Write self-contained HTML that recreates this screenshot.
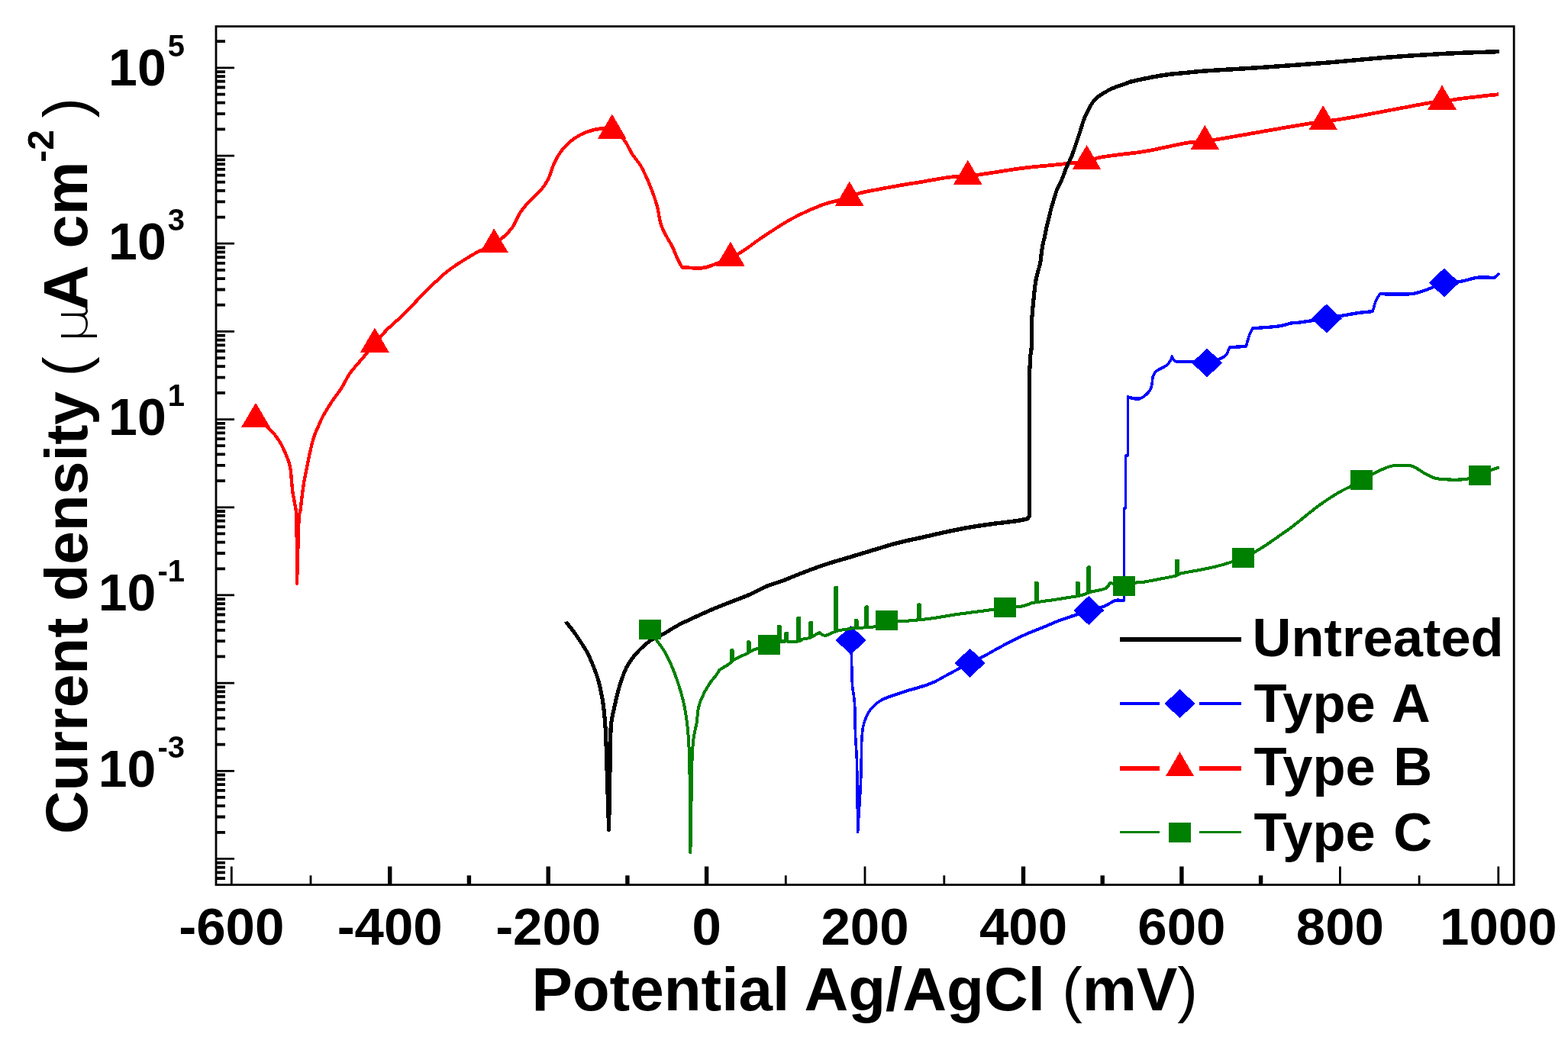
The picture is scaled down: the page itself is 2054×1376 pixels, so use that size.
<!DOCTYPE html>
<html><head><meta charset="utf-8"><title>Polarization curves</title>
<style>html,body{margin:0;padding:0;background:#fff;}svg{display:block;}</style></head>
<body>
<svg width="2054" height="1376" viewBox="0 0 2054 1376">
<rect width="2054" height="1376" fill="#fff"/>
<path d="M303.3,1159.5V1135.5M407.0,1159.5V1147.2M1029.3,1159.5V1147.2M1133.0,1159.5V1135.5M1236.8,1159.5V1147.2M1755.4,1159.5V1135.5M1859.1,1159.5V1147.2M1962.8,1159.5V1135.5M283.0,1125.4H307.0M283.0,1010.3H307.0M283.0,895.1H307.0M283.0,779.9H307.0M283.0,664.8H307.0M283.0,549.6H307.0M283.0,434.4H307.0M283.0,319.2H307.0M283.0,204.1H307.0M283.0,88.9H307.0" stroke="#000" stroke-width="2.8" fill="none"/>
<path d="M283.0,1151.0H295.0M283.0,1143.3H295.0M283.0,1136.6H295.0M283.0,1130.7H295.0M283.0,1090.8H295.0M283.0,1070.5H295.0M283.0,1056.1H295.0M283.0,1044.9H295.0M283.0,1035.8H295.0M283.0,1028.1H295.0M283.0,1021.4H295.0M283.0,1015.5H295.0M283.0,975.6H295.0M283.0,955.3H295.0M283.0,940.9H295.0M283.0,929.8H295.0M283.0,920.6H295.0M283.0,912.9H295.0M283.0,906.3H295.0M283.0,900.4H295.0M283.0,860.4H295.0M283.0,840.1H295.0M283.0,825.8H295.0M283.0,814.6H295.0M283.0,805.5H295.0M283.0,797.8H295.0M283.0,791.1H295.0M283.0,785.2H295.0M283.0,745.3H295.0M283.0,725.0H295.0M283.0,710.6H295.0M283.0,699.4H295.0M283.0,690.3H295.0M283.0,682.6H295.0M283.0,675.9H295.0M283.0,670.0H295.0M283.0,630.1H295.0M283.0,609.8H295.0M283.0,595.4H295.0M283.0,584.2H295.0M283.0,575.1H295.0M283.0,567.4H295.0M283.0,560.7H295.0M283.0,554.8H295.0M283.0,514.9H295.0M283.0,494.6H295.0M283.0,480.2H295.0M283.0,469.1H295.0M283.0,460.0H295.0M283.0,452.3H295.0M283.0,445.6H295.0M283.0,439.7H295.0M283.0,399.7H295.0M283.0,379.5H295.0M283.0,365.1H295.0M283.0,353.9H295.0M283.0,344.8H295.0M283.0,337.1H295.0M283.0,330.4H295.0M283.0,324.5H295.0M283.0,284.6H295.0M283.0,264.3H295.0M283.0,249.9H295.0M283.0,238.7H295.0M283.0,229.6H295.0M283.0,221.9H295.0M283.0,215.2H295.0M283.0,209.3H295.0M283.0,169.4H295.0M283.0,149.1H295.0M283.0,134.7H295.0M283.0,123.6H295.0M283.0,114.5H295.0M283.0,106.7H295.0M283.0,100.1H295.0M283.0,94.2H295.0M283.0,54.2H295.0" stroke="#000" stroke-width="3.8" fill="none"/>
<path d="M510.7,1159.5V1135.5M614.4,1159.5V1147.2M718.2,1159.5V1135.5M821.9,1159.5V1147.2M925.6,1159.5V1135.5M1340.5,1159.5V1135.5M1444.2,1159.5V1147.2M1547.9,1159.5V1135.5M1651.6,1159.5V1147.2" stroke="#000" stroke-width="5.4" fill="none"/>
<polyline points="1114.6,839.0 1114.8,843.1 1114.9,847.0 1115.1,850.9 1115.2,855.4 1115.4,860.7 1115.5,866.1 1115.7,872.2 1115.8,878.8 1116.0,885.5 1116.2,891.7 1116.5,897.3 1116.9,901.9 1117.4,905.7 1118.0,909.2 1118.6,912.8 1119.1,916.8 1119.5,921.7 1119.8,927.6 1119.9,934.1 1120.1,941.1 1120.2,948.3 1120.3,955.5 1120.5,962.5 1120.8,968.7 1121.2,974.3 1121.5,979.9 1121.9,986.2 1122.3,993.7 1122.6,1003.2 1122.8,1015.1 1123.0,1028.9 1123.2,1044.0 1123.3,1059.8 1123.4,1075.6 1123.6,1090.7 1124.3,1079.3 1125.0,1067.7 1125.8,1056.1 1126.5,1044.7 1127.1,1033.8 1127.6,1023.5 1127.9,1013.7 1128.1,1004.2 1128.3,995.1 1128.4,986.7 1128.5,979.1 1128.7,972.6 1129.0,966.4 1129.4,961.8 1129.8,958.2 1130.2,955.2 1130.7,952.3 1132.1,946.6 1133.8,942.1 1135.7,937.1 1138.8,931.9 1141.4,928.8 1144.5,925.5 1147.9,922.3 1151.0,919.7 1154.5,917.4 1157.9,915.8 1161.8,914.2 1165.3,912.9 1169.1,911.6 1173.1,910.3 1177.0,909.0 1180.9,907.7 1184.7,906.5 1188.6,905.2 1192.5,904.0 1196.4,902.9 1200.3,901.8 1204.2,900.7 1208.0,899.5 1211.8,898.3 1215.6,897.0 1219.3,895.6 1223.1,894.0 1226.8,892.2 1230.5,890.2 1234.2,888.1 1238.0,886.0 1241.9,883.9 1245.8,881.8 1249.8,879.7 1253.8,877.5 1257.9,875.4 1261.9,873.2 1266.2,871.1 1270.6,868.8 1274.5,866.9 1278.6,864.9 1282.9,862.9 1286.9,860.9 1290.6,859.0 1294.4,856.9 1297.7,855.0 1301.0,853.1 1304.9,850.9 1308.6,848.9 1312.7,846.7 1316.9,844.4 1321.2,842.1 1325.4,840.0 1329.5,838.0 1333.6,836.0 1337.6,834.1 1341.7,832.2 1345.8,830.4 1349.9,828.7 1354.0,827.0 1358.1,825.4 1362.2,823.8 1366.3,822.2 1370.4,820.5 1374.5,818.7 1378.5,816.9 1382.6,815.1 1386.7,813.5 1390.8,812.0 1395.0,810.6 1399.1,809.2 1403.2,807.8 1407.2,806.5 1412.0,804.8 1416.6,803.2 1421.3,801.5 1426.1,800.0 1430.2,798.9 1434.6,797.8 1439.0,796.8 1443.1,795.7 1446.8,794.5 1451.8,791.9 1455.9,789.2 1460.0,787.2 1464.2,786.6 1468.4,786.8 1472.5,787.0 1472.5,766.8 1472.5,746.7 1472.5,726.5 1472.5,706.3 1472.5,686.2 1472.5,666.0 1474.5,666.0 1474.5,654.5 1474.5,643.0 1474.5,631.5 1474.5,620.0 1474.5,608.5 1474.5,597.0 1477.4,597.0 1477.4,584.2 1477.4,571.3 1477.4,558.5 1477.4,545.7 1477.4,532.8 1477.4,520.0 1478.5,520.6 1482.5,521.6 1488.1,522.7 1493.5,522.3 1497.2,520.4 1500.9,517.6 1504.3,514.2 1506.9,510.6 1508.4,506.5 1509.2,501.9 1509.6,497.4 1510.2,493.8 1513.6,487.2 1517.1,484.9 1521.8,482.4 1526.6,479.7 1530.3,477.1 1533.5,472.1 1535.3,467.1 1537.1,470.9 1540.3,473.8 1543.5,474.2 1547.5,474.1 1552.1,473.8 1557.1,473.8 1560.7,474.1 1564.6,474.6 1568.7,475.2 1572.9,475.6 1577.1,475.8 1581.1,475.5 1585.2,474.7 1589.4,473.6 1593.6,472.1 1597.5,470.5 1601.0,468.8 1603.9,467.1 1607.3,463.4 1609.0,459.4 1610.6,455.4 1614.9,455.1 1619.3,454.7 1623.6,454.4 1628.0,454.0 1632.3,453.7 1633.6,449.3 1634.9,444.7 1636.2,440.5 1637.3,437.0 1640.7,430.3 1646.5,429.9 1652.5,429.4 1658.4,429.0 1664.2,428.6 1669.5,428.1 1674.1,427.6 1679.6,426.6 1684.0,425.5 1687.5,424.4 1690.8,423.6 1695.3,423.1 1700.0,422.8 1703.8,422.3 1708.1,421.7 1712.8,421.0 1717.6,420.3 1721.2,419.8 1724.6,419.4 1728.3,418.9 1732.5,418.2 1737.7,417.4 1743.1,416.5 1749.5,415.3 1756.3,414.0 1763.2,412.8 1769.7,411.6 1775.3,410.7 1780.8,409.9 1785.5,409.3 1789.7,408.9 1793.9,408.5 1798.2,408.0 1799.5,403.4 1800.8,398.8 1802.2,394.6 1804.8,389.7 1807.6,385.2 1814.5,385.3 1821.7,385.5 1828.8,385.6 1835.7,385.7 1842.2,385.6 1848.0,385.2 1853.0,384.5 1857.4,383.5 1861.4,382.3 1865.1,381.0 1868.6,379.7 1872.2,378.4 1876.4,376.8 1880.3,375.0 1884.1,373.2 1887.9,371.6 1891.8,370.4 1895.8,369.8 1899.8,369.6 1903.9,369.5 1908.1,369.4 1912.5,369.0 1916.4,368.3 1920.4,367.3 1924.5,366.2 1928.7,365.1 1932.8,364.2 1936.7,363.6 1941.4,363.3 1946.3,363.5 1951.0,363.7 1955.1,363.9 1958.3,363.6 1963.6,358.2" fill="none" stroke="#0000ff" stroke-width="3.6" stroke-linejoin="round" stroke-linecap="butt" shape-rendering="crispEdges"/><path d="M1116.2,839.0L1116.4,843.1L1113.2,843.1L1113.0,839.0ZM1116.4,843.1L1116.5,847.0L1113.3,847.0L1113.2,843.1ZM1116.5,847.0L1116.7,850.9L1113.5,850.9L1113.3,847.0ZM1116.7,850.9L1116.8,855.4L1113.6,855.4L1113.5,850.9ZM1116.8,855.4L1117.0,860.7L1113.8,860.7L1113.6,855.4ZM1117.0,860.7L1117.1,866.1L1113.9,866.1L1113.8,860.7ZM1117.1,866.1L1117.3,872.2L1114.1,872.2L1113.9,866.1ZM1117.3,872.2L1117.4,878.8L1114.2,878.8L1114.1,872.2ZM1117.4,878.8L1117.6,885.5L1114.4,885.5L1114.2,878.8ZM1117.6,885.5L1117.8,891.7L1114.6,891.7L1114.4,885.5ZM1117.8,891.7L1118.1,897.3L1114.9,897.3L1114.6,891.7ZM1118.1,897.3L1118.5,901.9L1115.3,901.9L1114.9,897.3ZM1118.5,901.9L1119.0,905.7L1115.8,905.7L1115.3,901.9ZM1119.0,905.7L1119.6,909.2L1116.4,909.2L1115.8,905.7ZM1119.6,909.2L1120.2,912.8L1117.0,912.8L1116.4,909.2ZM1120.2,912.8L1120.7,916.8L1117.5,916.8L1117.0,912.8ZM1120.7,916.8L1121.1,921.7L1117.9,921.7L1117.5,916.8ZM1121.1,921.7L1121.4,927.6L1118.2,927.6L1117.9,921.7ZM1121.4,927.6L1121.5,934.1L1118.3,934.1L1118.2,927.6ZM1121.5,934.1L1121.7,941.1L1118.5,941.1L1118.3,934.1ZM1121.7,941.1L1121.8,948.3L1118.6,948.3L1118.5,941.1ZM1121.8,948.3L1121.9,955.5L1118.7,955.5L1118.6,948.3ZM1121.9,955.5L1122.1,962.5L1118.9,962.5L1118.7,955.5ZM1122.1,962.5L1122.4,968.7L1119.2,968.7L1118.9,962.5ZM1122.4,968.7L1122.8,974.3L1119.6,974.3L1119.2,968.7ZM1122.8,974.3L1123.1,979.9L1120.0,979.9L1119.6,974.3ZM1123.1,979.9L1123.5,986.2L1120.3,986.2L1120.0,979.9ZM1123.5,986.2L1123.9,993.7L1120.7,993.7L1120.3,986.2ZM1123.9,993.7L1124.2,1003.2L1121.0,1003.2L1120.7,993.7ZM1124.2,1003.2L1124.4,1015.1L1121.2,1015.1L1121.0,1003.2ZM1124.4,1015.1L1124.6,1028.9L1121.4,1028.9L1121.2,1015.1ZM1124.6,1028.9L1124.8,1044.0L1121.6,1044.0L1121.4,1028.9ZM1124.8,1044.0L1124.9,1059.8L1121.7,1059.8L1121.6,1044.0ZM1124.9,1059.8L1125.0,1075.6L1121.8,1075.6L1121.7,1059.8ZM1125.0,1075.6L1125.2,1090.7L1122.0,1090.7L1121.8,1075.6ZM1122.0,1090.7L1122.7,1079.3L1125.9,1079.3L1125.2,1090.7ZM1122.7,1079.3L1123.4,1067.7L1126.6,1067.7L1125.9,1079.3ZM1123.4,1067.7L1124.2,1056.1L1127.4,1056.1L1126.6,1067.7ZM1124.2,1056.1L1124.9,1044.7L1128.1,1044.7L1127.4,1056.1ZM1124.9,1044.7L1125.5,1033.8L1128.7,1033.8L1128.1,1044.7ZM1125.5,1033.8L1126.0,1023.5L1129.2,1023.5L1128.7,1033.8ZM1126.0,1023.5L1126.3,1013.7L1129.5,1013.7L1129.2,1023.5ZM1126.3,1013.7L1126.5,1004.2L1129.7,1004.2L1129.5,1013.7ZM1126.5,1004.2L1126.7,995.1L1129.9,995.1L1129.7,1004.2ZM1126.7,995.1L1126.8,986.7L1130.0,986.7L1129.9,995.1ZM1126.8,986.7L1126.9,979.1L1130.1,979.1L1130.0,986.7ZM1126.9,979.1L1127.1,972.6L1130.3,972.6L1130.1,979.1ZM1127.1,972.6L1127.4,966.4L1130.6,966.4L1130.3,972.6ZM1127.4,966.4L1127.8,961.8L1131.0,961.8L1130.6,966.4ZM1127.8,961.8L1128.2,958.2L1131.4,958.2L1131.0,961.8ZM1128.2,958.2L1128.6,955.2L1131.8,955.2L1131.4,958.2ZM1128.6,955.2L1129.1,952.3L1132.3,952.3L1131.8,955.2ZM1129.1,952.3L1130.5,946.6L1133.7,946.6L1132.3,952.3ZM1130.5,946.6L1132.2,942.1L1135.4,942.1L1133.7,946.6ZM1132.2,942.1L1134.1,937.1L1137.3,937.1L1135.4,942.1ZM1134.1,937.1L1137.2,931.9L1140.4,931.9L1137.3,937.1ZM1137.2,931.9L1139.8,928.8L1143.0,928.8L1140.4,931.9ZM1139.8,928.8L1142.9,925.5L1146.1,925.5L1143.0,928.8ZM1144.5,923.3L1147.9,920.1L1147.9,924.5L1144.5,927.7ZM1147.9,920.1L1151.0,917.5L1151.0,921.9L1147.9,924.5ZM1151.0,917.5L1154.5,915.2L1154.5,919.6L1151.0,921.9ZM1154.5,915.2L1157.9,913.6L1157.9,918.0L1154.5,919.6ZM1157.9,913.6L1161.8,912.0L1161.8,916.4L1157.9,918.0ZM1161.8,912.0L1165.3,910.7L1165.3,915.1L1161.8,916.4ZM1165.3,910.7L1169.1,909.4L1169.1,913.8L1165.3,915.1ZM1169.1,909.4L1173.1,908.1L1173.1,912.5L1169.1,913.8ZM1173.1,908.1L1177.0,906.8L1177.0,911.2L1173.1,912.5ZM1177.0,906.8L1180.9,905.5L1180.9,909.9L1177.0,911.2ZM1180.9,905.5L1184.7,904.3L1184.7,908.7L1180.9,909.9ZM1184.7,904.3L1188.6,903.0L1188.6,907.4L1184.7,908.7ZM1188.6,903.0L1192.5,901.8L1192.5,906.2L1188.6,907.4ZM1192.5,901.8L1196.4,900.7L1196.4,905.1L1192.5,906.2ZM1196.4,900.7L1200.3,899.6L1200.3,904.0L1196.4,905.1ZM1200.3,899.6L1204.2,898.5L1204.2,902.9L1200.3,904.0ZM1204.2,898.5L1208.0,897.3L1208.0,901.7L1204.2,902.9ZM1208.0,897.3L1211.8,896.1L1211.8,900.5L1208.0,901.7ZM1211.8,896.1L1215.6,894.8L1215.6,899.2L1211.8,900.5ZM1215.6,894.8L1219.3,893.4L1219.3,897.8L1215.6,899.2ZM1219.3,893.4L1223.1,891.8L1223.1,896.2L1219.3,897.8ZM1223.1,891.8L1226.8,890.0L1226.8,894.4L1223.1,896.2ZM1226.8,890.0L1230.5,888.0L1230.5,892.4L1226.8,894.4ZM1230.5,888.0L1234.2,885.9L1234.2,890.3L1230.5,892.4ZM1234.2,885.9L1238.0,883.8L1238.0,888.2L1234.2,890.3ZM1238.0,883.8L1241.9,881.7L1241.9,886.1L1238.0,888.2ZM1241.9,881.7L1245.8,879.6L1245.8,884.0L1241.9,886.1ZM1245.8,879.6L1249.8,877.5L1249.8,881.9L1245.8,884.0ZM1249.8,877.5L1253.8,875.3L1253.8,879.7L1249.8,881.9ZM1253.8,875.3L1257.9,873.2L1257.9,877.6L1253.8,879.7ZM1257.9,873.2L1261.9,871.0L1261.9,875.4L1257.9,877.6ZM1261.9,871.0L1266.2,868.9L1266.2,873.3L1261.9,875.4ZM1266.2,868.9L1270.6,866.6L1270.6,871.0L1266.2,873.3ZM1270.6,866.6L1274.5,864.7L1274.5,869.1L1270.6,871.0ZM1274.5,864.7L1278.6,862.7L1278.6,867.1L1274.5,869.1ZM1278.6,862.7L1282.9,860.7L1282.9,865.1L1278.6,867.1ZM1282.9,860.7L1286.9,858.7L1286.9,863.1L1282.9,865.1ZM1286.9,858.7L1290.6,856.8L1290.6,861.2L1286.9,863.1ZM1290.6,856.8L1294.4,854.7L1294.4,859.1L1290.6,861.2ZM1294.4,854.7L1297.7,852.8L1297.7,857.2L1294.4,859.1ZM1297.7,852.8L1301.0,850.9L1301.0,855.3L1297.7,857.2ZM1301.0,850.9L1304.9,848.7L1304.9,853.1L1301.0,855.3ZM1304.9,848.7L1308.6,846.7L1308.6,851.1L1304.9,853.1ZM1308.6,846.7L1312.7,844.5L1312.7,848.9L1308.6,851.1ZM1312.7,844.5L1316.9,842.2L1316.9,846.6L1312.7,848.9ZM1316.9,842.2L1321.2,839.9L1321.2,844.3L1316.9,846.6ZM1321.2,839.9L1325.4,837.8L1325.4,842.2L1321.2,844.3ZM1325.4,837.8L1329.5,835.8L1329.5,840.2L1325.4,842.2ZM1329.5,835.8L1333.6,833.8L1333.6,838.2L1329.5,840.2ZM1333.6,833.8L1337.6,831.9L1337.6,836.3L1333.6,838.2ZM1337.6,831.9L1341.7,830.0L1341.7,834.4L1337.6,836.3ZM1341.7,830.0L1345.8,828.2L1345.8,832.6L1341.7,834.4ZM1345.8,828.2L1349.9,826.5L1349.9,830.9L1345.8,832.6ZM1349.9,826.5L1354.0,824.8L1354.0,829.2L1349.9,830.9ZM1354.0,824.8L1358.1,823.2L1358.1,827.6L1354.0,829.2ZM1358.1,823.2L1362.2,821.6L1362.2,826.0L1358.1,827.6ZM1362.2,821.6L1366.3,820.0L1366.3,824.4L1362.2,826.0ZM1366.3,820.0L1370.4,818.3L1370.4,822.7L1366.3,824.4ZM1370.4,818.3L1374.5,816.5L1374.5,820.9L1370.4,822.7ZM1374.5,816.5L1378.5,814.7L1378.5,819.1L1374.5,820.9ZM1378.5,814.7L1382.6,812.9L1382.6,817.3L1378.5,819.1ZM1382.6,812.9L1386.7,811.3L1386.7,815.7L1382.6,817.3ZM1386.7,811.3L1390.8,809.8L1390.8,814.2L1386.7,815.7ZM1390.8,809.8L1395.0,808.4L1395.0,812.8L1390.8,814.2ZM1395.0,808.4L1399.1,807.0L1399.1,811.4L1395.0,812.8ZM1399.1,807.0L1403.2,805.6L1403.2,810.0L1399.1,811.4ZM1403.2,805.6L1407.2,804.3L1407.2,808.7L1403.2,810.0ZM1407.2,804.3L1412.0,802.6L1412.0,807.0L1407.2,808.7ZM1412.0,802.6L1416.6,801.0L1416.6,805.4L1412.0,807.0ZM1416.6,801.0L1421.3,799.3L1421.3,803.7L1416.6,805.4ZM1421.3,799.3L1426.1,797.8L1426.1,802.2L1421.3,803.7ZM1426.1,797.8L1430.2,796.7L1430.2,801.1L1426.1,802.2ZM1430.2,796.7L1434.6,795.6L1434.6,800.0L1430.2,801.1ZM1434.6,795.6L1439.0,794.6L1439.0,799.0L1434.6,800.0ZM1439.0,794.6L1443.1,793.5L1443.1,797.9L1439.0,799.0ZM1443.1,793.5L1446.8,792.3L1446.8,796.7L1443.1,797.9ZM1446.8,792.3L1451.8,789.7L1451.8,794.1L1446.8,796.7ZM1451.8,789.7L1455.9,787.0L1455.9,791.4L1451.8,794.1ZM1455.9,787.0L1460.0,785.0L1460.0,789.4L1455.9,791.4ZM1460.0,785.0L1464.2,784.4L1464.2,788.8L1460.0,789.4ZM1464.2,784.4L1468.4,784.6L1468.4,789.0L1464.2,788.8ZM1468.4,784.6L1472.5,784.8L1472.5,789.2L1468.4,789.0ZM1470.9,787.0L1470.9,766.8L1474.1,766.8L1474.1,787.0ZM1470.9,766.8L1470.9,746.7L1474.1,746.7L1474.1,766.8ZM1470.9,746.7L1470.9,726.5L1474.1,726.5L1474.1,746.7ZM1470.9,726.5L1470.9,706.3L1474.1,706.3L1474.1,726.5ZM1470.9,706.3L1470.9,686.2L1474.1,686.2L1474.1,706.3ZM1470.9,686.2L1470.9,666.0L1474.1,666.0L1474.1,686.2ZM1472.5,663.8L1474.5,663.8L1474.5,668.2L1472.5,668.2ZM1472.9,666.0L1472.9,654.5L1476.1,654.5L1476.1,666.0ZM1472.9,654.5L1472.9,643.0L1476.1,643.0L1476.1,654.5ZM1472.9,643.0L1472.9,631.5L1476.1,631.5L1476.1,643.0ZM1472.9,631.5L1472.9,620.0L1476.1,620.0L1476.1,631.5ZM1472.9,620.0L1472.9,608.5L1476.1,608.5L1476.1,620.0ZM1472.9,608.5L1472.9,597.0L1476.1,597.0L1476.1,608.5ZM1474.5,594.8L1477.4,594.8L1477.4,599.2L1474.5,599.2ZM1475.8,597.0L1475.8,584.2L1479.0,584.2L1479.0,597.0ZM1475.8,584.2L1475.8,571.3L1479.0,571.3L1479.0,584.2ZM1475.8,571.3L1475.8,558.5L1479.0,558.5L1479.0,571.3ZM1475.8,558.5L1475.8,545.7L1479.0,545.7L1479.0,558.5ZM1475.8,545.7L1475.8,532.8L1479.0,532.8L1479.0,545.7ZM1475.8,532.8L1475.8,520.0L1479.0,520.0L1479.0,532.8ZM1477.4,517.8L1478.5,518.4L1478.5,522.8L1477.4,522.2ZM1478.5,518.4L1482.5,519.4L1482.5,523.8L1478.5,522.8ZM1482.5,519.4L1488.1,520.5L1488.1,524.9L1482.5,523.8ZM1488.1,520.5L1493.5,520.1L1493.5,524.5L1488.1,524.9ZM1493.5,520.1L1497.2,518.2L1497.2,522.6L1493.5,524.5ZM1497.2,518.2L1500.9,515.4L1500.9,519.8L1497.2,522.6ZM1499.3,517.6L1502.7,514.2L1505.9,514.2L1502.5,517.6ZM1502.7,514.2L1505.3,510.6L1508.5,510.6L1505.9,514.2ZM1505.3,510.6L1506.8,506.5L1510.0,506.5L1508.5,510.6ZM1506.8,506.5L1507.6,501.9L1510.8,501.9L1510.0,506.5ZM1507.6,501.9L1508.0,497.4L1511.2,497.4L1510.8,501.9ZM1508.0,497.4L1508.6,493.8L1511.8,493.8L1511.2,497.4ZM1508.6,493.8L1512.0,487.2L1515.2,487.2L1511.8,493.8ZM1513.6,485.0L1517.1,482.7L1517.1,487.1L1513.6,489.4ZM1517.1,482.7L1521.8,480.2L1521.8,484.6L1517.1,487.1ZM1521.8,480.2L1526.6,477.5L1526.6,481.9L1521.8,484.6ZM1526.6,477.5L1530.3,474.9L1530.3,479.3L1526.6,481.9ZM1528.7,477.1L1531.9,472.1L1535.1,472.1L1531.9,477.1ZM1531.9,472.1L1533.7,467.1L1536.9,467.1L1535.1,472.1ZM1536.9,467.1L1538.7,470.9L1535.5,470.9L1533.7,467.1ZM1537.1,468.7L1540.3,471.6L1540.3,476.0L1537.1,473.1ZM1540.3,471.6L1543.5,472.0L1543.5,476.4L1540.3,476.0ZM1543.5,472.0L1547.5,471.9L1547.5,476.3L1543.5,476.4ZM1547.5,471.9L1552.1,471.6L1552.1,476.0L1547.5,476.3ZM1552.1,471.6L1557.1,471.6L1557.1,476.0L1552.1,476.0ZM1557.1,471.6L1560.7,471.9L1560.7,476.3L1557.1,476.0ZM1560.7,471.9L1564.6,472.4L1564.6,476.8L1560.7,476.3ZM1564.6,472.4L1568.7,473.0L1568.7,477.4L1564.6,476.8ZM1568.7,473.0L1572.9,473.4L1572.9,477.8L1568.7,477.4ZM1572.9,473.4L1577.1,473.6L1577.1,478.0L1572.9,477.8ZM1577.1,473.6L1581.1,473.3L1581.1,477.7L1577.1,478.0ZM1581.1,473.3L1585.2,472.5L1585.2,476.9L1581.1,477.7ZM1585.2,472.5L1589.4,471.4L1589.4,475.8L1585.2,476.9ZM1589.4,471.4L1593.6,469.9L1593.6,474.3L1589.4,475.8ZM1593.6,469.9L1597.5,468.3L1597.5,472.7L1593.6,474.3ZM1597.5,468.3L1601.0,466.6L1601.0,471.0L1597.5,472.7ZM1601.0,466.6L1603.9,464.9L1603.9,469.3L1601.0,471.0ZM1602.3,467.1L1605.7,463.4L1608.9,463.4L1605.5,467.1ZM1605.7,463.4L1607.4,459.4L1610.6,459.4L1608.9,463.4ZM1607.4,459.4L1609.0,455.4L1612.2,455.4L1610.6,459.4ZM1610.6,453.2L1614.9,452.9L1614.9,457.3L1610.6,457.6ZM1614.9,452.9L1619.3,452.5L1619.3,456.9L1614.9,457.3ZM1619.3,452.5L1623.6,452.2L1623.6,456.6L1619.3,456.9ZM1623.6,452.2L1628.0,451.8L1628.0,456.2L1623.6,456.6ZM1628.0,451.8L1632.3,451.5L1632.3,455.9L1628.0,456.2ZM1630.7,453.7L1632.0,449.3L1635.2,449.3L1633.9,453.7ZM1632.0,449.3L1633.3,444.7L1636.5,444.7L1635.2,449.3ZM1633.3,444.7L1634.6,440.5L1637.8,440.5L1636.5,444.7ZM1634.6,440.5L1635.7,437.0L1638.9,437.0L1637.8,440.5ZM1635.7,437.0L1639.1,430.3L1642.3,430.3L1638.9,437.0ZM1640.7,428.1L1646.5,427.7L1646.5,432.1L1640.7,432.5ZM1646.5,427.7L1652.5,427.2L1652.5,431.6L1646.5,432.1ZM1652.5,427.2L1658.4,426.8L1658.4,431.2L1652.5,431.6ZM1658.4,426.8L1664.2,426.4L1664.2,430.8L1658.4,431.2ZM1664.2,426.4L1669.5,425.9L1669.5,430.3L1664.2,430.8ZM1669.5,425.9L1674.1,425.4L1674.1,429.8L1669.5,430.3ZM1674.1,425.4L1679.6,424.4L1679.6,428.8L1674.1,429.8ZM1679.6,424.4L1684.0,423.3L1684.0,427.7L1679.6,428.8ZM1684.0,423.3L1687.5,422.2L1687.5,426.6L1684.0,427.7ZM1687.5,422.2L1690.8,421.4L1690.8,425.8L1687.5,426.6ZM1690.8,421.4L1695.3,420.9L1695.3,425.3L1690.8,425.8ZM1695.3,420.9L1700.0,420.6L1700.0,425.0L1695.3,425.3ZM1700.0,420.6L1703.8,420.1L1703.8,424.5L1700.0,425.0ZM1703.8,420.1L1708.1,419.5L1708.1,423.9L1703.8,424.5ZM1708.1,419.5L1712.8,418.8L1712.8,423.2L1708.1,423.9ZM1712.8,418.8L1717.6,418.1L1717.6,422.5L1712.8,423.2ZM1717.6,418.1L1721.2,417.6L1721.2,422.0L1717.6,422.5ZM1721.2,417.6L1724.6,417.2L1724.6,421.6L1721.2,422.0ZM1724.6,417.2L1728.3,416.7L1728.3,421.1L1724.6,421.6ZM1728.3,416.7L1732.5,416.0L1732.5,420.4L1728.3,421.1ZM1732.5,416.0L1737.7,415.2L1737.7,419.6L1732.5,420.4ZM1737.7,415.2L1743.1,414.3L1743.1,418.7L1737.7,419.6ZM1743.1,414.3L1749.5,413.1L1749.5,417.5L1743.1,418.7ZM1749.5,413.1L1756.3,411.8L1756.3,416.2L1749.5,417.5ZM1756.3,411.8L1763.2,410.6L1763.2,415.0L1756.3,416.2ZM1763.2,410.6L1769.7,409.4L1769.7,413.8L1763.2,415.0ZM1769.7,409.4L1775.3,408.5L1775.3,412.9L1769.7,413.8ZM1775.3,408.5L1780.8,407.7L1780.8,412.1L1775.3,412.9ZM1780.8,407.7L1785.5,407.1L1785.5,411.5L1780.8,412.1ZM1785.5,407.1L1789.7,406.7L1789.7,411.1L1785.5,411.5ZM1789.7,406.7L1793.9,406.3L1793.9,410.7L1789.7,411.1ZM1793.9,406.3L1798.2,405.8L1798.2,410.2L1793.9,410.7ZM1796.6,408.0L1797.9,403.4L1801.1,403.4L1799.8,408.0ZM1797.9,403.4L1799.2,398.8L1802.4,398.8L1801.1,403.4ZM1799.2,398.8L1800.6,394.6L1803.8,394.6L1802.4,398.8ZM1800.6,394.6L1803.2,389.7L1806.4,389.7L1803.8,394.6ZM1803.2,389.7L1806.0,385.2L1809.2,385.2L1806.4,389.7ZM1807.6,383.0L1814.5,383.1L1814.5,387.5L1807.6,387.4ZM1814.5,383.1L1821.7,383.3L1821.7,387.7L1814.5,387.5ZM1821.7,383.3L1828.8,383.4L1828.8,387.8L1821.7,387.7ZM1828.8,383.4L1835.7,383.5L1835.7,387.9L1828.8,387.8ZM1835.7,383.5L1842.2,383.4L1842.2,387.8L1835.7,387.9ZM1842.2,383.4L1848.0,383.0L1848.0,387.4L1842.2,387.8ZM1848.0,383.0L1853.0,382.3L1853.0,386.7L1848.0,387.4ZM1853.0,382.3L1857.4,381.3L1857.4,385.7L1853.0,386.7ZM1857.4,381.3L1861.4,380.1L1861.4,384.5L1857.4,385.7ZM1861.4,380.1L1865.1,378.8L1865.1,383.2L1861.4,384.5ZM1865.1,378.8L1868.6,377.5L1868.6,381.9L1865.1,383.2ZM1868.6,377.5L1872.2,376.2L1872.2,380.6L1868.6,381.9ZM1872.2,376.2L1876.4,374.6L1876.4,379.0L1872.2,380.6ZM1876.4,374.6L1880.3,372.8L1880.3,377.2L1876.4,379.0ZM1880.3,372.8L1884.1,371.0L1884.1,375.4L1880.3,377.2ZM1884.1,371.0L1887.9,369.4L1887.9,373.8L1884.1,375.4ZM1887.9,369.4L1891.8,368.2L1891.8,372.6L1887.9,373.8ZM1891.8,368.2L1895.8,367.6L1895.8,372.0L1891.8,372.6ZM1895.8,367.6L1899.8,367.4L1899.8,371.8L1895.8,372.0ZM1899.8,367.4L1903.9,367.3L1903.9,371.7L1899.8,371.8ZM1903.9,367.3L1908.1,367.2L1908.1,371.6L1903.9,371.7ZM1908.1,367.2L1912.5,366.8L1912.5,371.2L1908.1,371.6ZM1912.5,366.8L1916.4,366.1L1916.4,370.5L1912.5,371.2ZM1916.4,366.1L1920.4,365.1L1920.4,369.5L1916.4,370.5ZM1920.4,365.1L1924.5,364.0L1924.5,368.4L1920.4,369.5ZM1924.5,364.0L1928.7,362.9L1928.7,367.3L1924.5,368.4ZM1928.7,362.9L1932.8,362.0L1932.8,366.4L1928.7,367.3ZM1932.8,362.0L1936.7,361.4L1936.7,365.8L1932.8,366.4ZM1936.7,361.4L1941.4,361.1L1941.4,365.5L1936.7,365.8ZM1941.4,361.1L1946.3,361.3L1946.3,365.7L1941.4,365.5ZM1946.3,361.3L1951.0,361.5L1951.0,365.9L1946.3,365.7ZM1951.0,361.5L1955.1,361.7L1955.1,366.1L1951.0,365.9ZM1955.1,361.7L1958.3,361.4L1958.3,365.8L1955.1,366.1ZM1956.7,363.6L1962.0,358.2L1965.2,358.2L1959.9,363.6ZM1142.9,925.5L1144.5,923.3L1146.1,925.5L1144.5,927.7ZM1470.9,787.0L1472.5,784.8L1474.1,787.0L1472.5,789.2ZM1470.9,666.0L1472.5,663.8L1474.1,666.0L1472.5,668.2ZM1472.9,666.0L1474.5,663.8L1476.1,666.0L1474.5,668.2ZM1472.9,597.0L1474.5,594.8L1476.1,597.0L1474.5,599.2ZM1475.8,597.0L1477.4,594.8L1479.0,597.0L1477.4,599.2ZM1475.8,520.0L1477.4,517.8L1479.0,520.0L1477.4,522.2ZM1499.3,517.6L1500.9,515.4L1502.5,517.6L1500.9,519.8ZM1512.0,487.2L1513.6,485.0L1515.2,487.2L1513.6,489.4ZM1528.7,477.1L1530.3,474.9L1531.9,477.1L1530.3,479.3ZM1535.5,470.9L1537.1,468.7L1538.7,470.9L1537.1,473.1ZM1602.3,467.1L1603.9,464.9L1605.5,467.1L1603.9,469.3ZM1609.0,455.4L1610.6,453.2L1612.2,455.4L1610.6,457.6ZM1630.7,453.7L1632.3,451.5L1633.9,453.7L1632.3,455.9ZM1639.1,430.3L1640.7,428.1L1642.3,430.3L1640.7,432.5ZM1796.6,408.0L1798.2,405.8L1799.8,408.0L1798.2,410.2ZM1806.0,385.2L1807.6,383.0L1809.2,385.2L1807.6,387.4ZM1956.7,363.6L1958.3,361.4L1959.9,363.6L1958.3,365.8Z" fill="#0000ff" shape-rendering="crispEdges"/>
<polygon points="1114.6,820.0 1134.6,839.0 1114.6,858.0 1094.6,839.0" fill="#0000ff" shape-rendering="crispEdges"/>
<polygon points="1270.6,849.8 1290.6,868.8 1270.6,887.8 1250.6,868.8" fill="#0000ff" shape-rendering="crispEdges"/>
<polygon points="1426.1,781.0 1446.1,800.0 1426.1,819.0 1406.1,800.0" fill="#0000ff" shape-rendering="crispEdges"/>
<polygon points="1581.1,456.5 1601.1,475.5 1581.1,494.5 1561.1,475.5" fill="#0000ff" shape-rendering="crispEdges"/>
<polygon points="1737.7,398.4 1757.7,417.4 1737.7,436.4 1717.7,417.4" fill="#0000ff" shape-rendering="crispEdges"/>
<polygon points="1891.8,351.4 1911.8,370.4 1891.8,389.4 1871.8,370.4" fill="#0000ff" shape-rendering="crispEdges"/>
<polyline points="335.0,549.0 338.6,551.5 342.2,553.9 345.8,556.4 349.3,558.9 352.5,561.7 355.5,564.7 358.3,567.8 360.9,571.0 363.3,574.4 365.6,577.7 368.2,581.9 370.4,586.3 372.4,590.7 374.3,595.1 376.0,599.2 377.6,603.1 378.9,607.4 380.1,612.6 380.8,616.9 381.3,621.8 381.7,627.1 382.1,632.4 382.6,637.3 383.0,641.6 383.7,646.7 384.5,650.8 385.2,654.7 385.9,659.0 386.4,662.0 387.0,664.1 387.5,666.8 387.9,671.7 388.3,680.0 388.5,690.4 388.7,703.5 388.8,718.4 388.8,734.1 388.9,749.8 389.0,764.7 389.4,750.1 389.9,734.5 390.3,718.9 390.7,704.3 391.1,691.7 391.5,682.0 392.2,673.4 393.2,670.7 393.8,666.1 394.5,660.4 395.2,654.0 396.0,647.4 396.8,641.2 397.6,635.8 398.5,630.3 399.4,625.3 400.3,620.8 401.1,616.6 401.9,612.6 402.8,608.1 403.6,604.1 404.4,600.4 405.2,596.7 406.3,591.7 407.4,586.9 408.5,582.3 409.7,577.7 411.0,573.3 412.4,569.2 414.6,563.9 417.0,558.7 418.7,554.8 420.4,550.7 422.2,546.9 424.8,542.3 427.5,537.8 429.6,534.4 431.8,530.8 434.0,527.3 437.3,522.6 440.6,518.1 443.9,513.7 447.1,509.0 449.3,505.2 451.4,501.1 453.6,497.2 455.7,493.6 457.9,490.0 460.2,486.7 464.0,482.1 468.0,477.6 470.7,474.4 473.5,471.3 475.9,468.4 478.4,465.3 481.1,461.9 483.9,458.7 487.3,455.0 490.9,450.8 493.9,447.1 497.3,443.0 500.5,439.1 503.4,435.7 507.4,431.5 511.2,427.9 514.3,425.1 517.9,422.0 522.4,417.8 525.3,415.0 528.6,411.7 532.2,408.1 535.8,404.4 539.4,400.8 542.7,397.4 545.7,394.3 548.4,391.5 551.0,388.7 553.7,385.8 556.6,382.8 560.0,379.5 563.9,375.8 568.1,371.7 572.6,367.5 577.1,363.2 581.7,359.2 586.2,355.5 590.7,352.1 595.3,348.9 599.9,345.8 604.4,342.9 608.6,340.3 612.3,338.0 616.8,335.2 620.4,333.1 623.7,331.3 627.6,329.3 631.2,327.7 635.0,326.4 639.0,324.9 643.0,323.1 647.2,320.6 650.9,317.9 654.8,314.7 658.8,311.2 662.7,307.5 666.3,303.8 669.5,300.2 672.1,296.6 674.3,292.7 676.2,288.9 678.0,285.1 679.8,281.5 681.7,278.3 684.7,274.1 687.6,270.5 690.6,267.2 693.8,263.7 696.6,260.8 699.7,257.9 702.8,254.9 705.7,252.0 708.4,249.1 711.2,245.6 713.8,242.1 716.0,238.5 718.2,234.5 719.8,230.9 721.2,226.9 722.5,222.9 723.9,218.8 725.5,215.0 727.6,210.5 729.9,206.2 732.4,202.0 735.2,198.0 737.8,194.8 740.6,191.8 743.5,188.8 746.6,186.0 749.8,183.4 753.8,180.5 758.0,177.9 762.4,175.6 766.9,173.6 771.7,171.9 776.7,170.5 781.7,169.4 786.3,168.8 791.8,168.6 796.8,169.1 801.8,170.8 805.8,173.0 809.8,175.9 813.7,179.4 817.3,183.2 819.8,186.6 822.0,190.4 824.1,194.5 826.1,198.4 828.2,202.0 831.0,205.9 833.8,209.5 836.5,213.1 839.1,216.9 841.5,221.2 843.7,225.7 845.8,230.2 847.8,234.6 849.6,238.7 851.2,242.6 852.8,246.5 854.4,250.8 855.7,254.5 857.1,258.3 858.5,262.3 859.7,266.4 860.9,270.5 861.9,274.8 862.7,279.4 863.5,284.0 864.3,288.3 865.3,292.3 866.7,296.6 868.3,300.3 870.0,303.8 871.8,307.5 873.9,311.3 876.1,315.1 878.4,319.0 880.5,322.8 882.3,326.7 883.9,330.7 885.5,334.6 887.1,338.2 889.3,342.5 891.4,346.5 893.6,350.5 898.1,350.7 902.7,350.9 907.4,351.1 911.9,351.3 916.1,351.3 919.8,351.1 925.5,350.2 929.9,348.7 935.1,346.8 939.1,345.3 943.6,343.7 948.2,341.8 952.7,339.9 956.9,338.0 961.4,335.8 965.4,333.7 969.5,331.3 974.3,328.2 978.0,325.7 981.9,322.9 986.0,319.9 990.3,316.7 995.0,313.4 1000.0,310.0 1005.5,306.4 1011.4,302.5 1017.6,298.5 1023.9,294.5 1030.3,290.6 1036.5,287.1 1042.7,283.8 1049.1,280.6 1055.5,277.6 1061.7,274.8 1067.6,272.3 1073.0,270.1 1077.9,268.3 1082.4,266.8 1086.5,265.6 1090.4,264.6 1094.0,263.7 1097.4,262.8 1103.2,261.4 1108.0,260.3 1112.7,259.0 1116.3,257.3 1119.8,255.3 1126.6,253.0 1132.3,251.7 1139.3,250.3 1147.1,248.8 1155.2,247.2 1163.2,245.8 1170.4,244.5 1176.9,243.3 1183.1,242.3 1189.1,241.3 1195.0,240.3 1200.9,239.4 1206.9,238.4 1213.1,237.3 1219.5,236.2 1225.9,235.1 1232.1,234.0 1238.0,233.0 1243.4,232.3 1248.2,231.8 1252.4,231.6 1256.4,231.5 1260.1,231.4 1263.9,231.3 1267.8,231.0 1271.6,230.6 1275.0,230.1 1278.4,229.6 1282.2,229.0 1286.6,228.3 1292.1,227.5 1298.8,226.5 1306.5,225.3 1314.9,223.9 1323.7,222.6 1332.4,221.3 1340.8,220.2 1349.1,219.2 1357.6,218.4 1366.1,217.5 1374.3,216.8 1382.2,216.0 1389.5,215.3 1396.3,214.6 1402.7,213.9 1408.7,213.3 1414.2,212.6 1419.2,212.0 1423.6,211.3 1429.6,209.8 1433.3,208.3 1438.2,206.8 1441.5,206.1 1445.1,205.5 1448.9,205.0 1453.1,204.4 1457.6,203.8 1462.5,203.1 1467.8,202.4 1473.4,201.8 1479.5,201.1 1485.9,200.4 1492.7,199.5 1500.0,198.3 1508.3,196.8 1517.5,194.9 1527.3,192.8 1536.8,190.8 1545.6,189.0 1553.0,187.6 1558.8,186.7 1563.6,186.3 1567.5,186.0 1571.0,185.9 1574.5,185.7 1578.3,185.3 1581.9,184.8 1584.2,184.5 1587.1,184.0 1592.3,183.1 1601.7,181.5 1614.4,179.3 1631.0,176.4 1649.7,173.1 1668.6,169.8 1685.7,166.8 1699.1,164.5 1708.4,163.0 1715.0,161.9 1719.8,161.2 1723.8,160.7 1728.0,160.2 1733.2,159.4 1738.7,158.6 1743.6,158.0 1748.7,157.3 1754.6,156.5 1762.2,155.3 1772.1,153.6 1785.8,151.1 1803.1,147.8 1822.0,144.2 1840.6,140.7 1857.1,137.6 1869.5,135.3 1879.6,133.6 1883.5,133.2 1885.3,133.3 1889.0,132.9 1893.1,132.3 1897.4,131.7 1902.0,131.0 1906.9,130.2 1912.3,129.5 1918.2,128.7 1924.8,127.9 1932.0,127.1 1939.7,126.2 1947.6,125.3 1955.5,124.5 1963.2,123.6" fill="none" stroke="#ff0000" stroke-width="4.3" stroke-linejoin="round" stroke-linecap="butt" shape-rendering="crispEdges"/><path d="M335.0,546.6L338.6,549.1L338.6,553.9L335.0,551.4ZM338.6,549.1L342.2,551.5L342.2,556.3L338.6,553.9ZM342.2,551.5L345.8,554.0L345.8,558.8L342.2,556.3ZM345.8,554.0L349.3,556.5L349.3,561.3L345.8,558.8ZM349.3,556.5L352.5,559.3L352.5,564.1L349.3,561.3ZM352.5,559.3L355.5,562.3L355.5,567.1L352.5,564.1ZM357.7,564.7L360.5,567.8L356.1,567.8L353.3,564.7ZM360.5,567.8L363.1,571.0L358.7,571.0L356.1,567.8ZM363.1,571.0L365.5,574.4L361.1,574.4L358.7,571.0ZM365.5,574.4L367.8,577.7L363.4,577.7L361.1,574.4ZM367.8,577.7L370.4,581.9L366.0,581.9L363.4,577.7ZM370.4,581.9L372.6,586.3L368.2,586.3L366.0,581.9ZM372.6,586.3L374.6,590.7L370.2,590.7L368.2,586.3ZM374.6,590.7L376.5,595.1L372.1,595.1L370.2,590.7ZM376.5,595.1L378.2,599.2L373.8,599.2L372.1,595.1ZM378.2,599.2L379.8,603.1L375.4,603.1L373.8,599.2ZM379.8,603.1L381.1,607.4L376.7,607.4L375.4,603.1ZM381.1,607.4L382.3,612.6L377.9,612.6L376.7,607.4ZM382.3,612.6L383.0,616.9L378.6,616.9L377.9,612.6ZM383.0,616.9L383.5,621.8L379.1,621.8L378.6,616.9ZM383.5,621.8L383.9,627.1L379.5,627.1L379.1,621.8ZM383.9,627.1L384.3,632.4L379.9,632.4L379.5,627.1ZM384.3,632.4L384.8,637.3L380.4,637.3L379.9,632.4ZM384.8,637.3L385.2,641.6L380.8,641.6L380.4,637.3ZM385.2,641.6L385.9,646.7L381.5,646.7L380.8,641.6ZM385.9,646.7L386.7,650.8L382.3,650.8L381.5,646.7ZM386.7,650.8L387.4,654.7L383.0,654.7L382.3,650.8ZM387.4,654.7L388.1,659.0L383.7,659.0L383.0,654.7ZM388.1,659.0L388.6,662.0L384.2,662.0L383.7,659.0ZM388.6,662.0L389.2,664.1L384.8,664.1L384.2,662.0ZM389.2,664.1L389.7,666.8L385.3,666.8L384.8,664.1ZM389.7,666.8L390.1,671.7L385.7,671.7L385.3,666.8ZM390.1,671.7L390.5,680.0L386.1,680.0L385.7,671.7ZM390.5,680.0L390.7,690.4L386.3,690.4L386.1,680.0ZM390.7,690.4L390.9,703.5L386.5,703.5L386.3,690.4ZM390.9,703.5L391.0,718.4L386.6,718.4L386.5,703.5ZM391.0,718.4L391.0,734.1L386.6,734.1L386.6,718.4ZM391.0,734.1L391.1,749.8L386.7,749.8L386.6,734.1ZM391.1,749.8L391.2,764.7L386.8,764.7L386.7,749.8ZM386.8,764.7L387.2,750.1L391.6,750.1L391.2,764.7ZM387.2,750.1L387.7,734.5L392.1,734.5L391.6,750.1ZM387.7,734.5L388.1,718.9L392.5,718.9L392.1,734.5ZM388.1,718.9L388.5,704.3L392.9,704.3L392.5,718.9ZM388.5,704.3L388.9,691.7L393.3,691.7L392.9,704.3ZM388.9,691.7L389.3,682.0L393.7,682.0L393.3,691.7ZM389.3,682.0L390.0,673.4L394.4,673.4L393.7,682.0ZM390.0,673.4L391.0,670.7L395.4,670.7L394.4,673.4ZM391.0,670.7L391.6,666.1L396.0,666.1L395.4,670.7ZM391.6,666.1L392.3,660.4L396.7,660.4L396.0,666.1ZM392.3,660.4L393.0,654.0L397.4,654.0L396.7,660.4ZM393.0,654.0L393.8,647.4L398.2,647.4L397.4,654.0ZM393.8,647.4L394.6,641.2L399.0,641.2L398.2,647.4ZM394.6,641.2L395.4,635.8L399.8,635.8L399.0,641.2ZM395.4,635.8L396.3,630.3L400.7,630.3L399.8,635.8ZM396.3,630.3L397.2,625.3L401.6,625.3L400.7,630.3ZM397.2,625.3L398.1,620.8L402.5,620.8L401.6,625.3ZM398.1,620.8L398.9,616.6L403.3,616.6L402.5,620.8ZM398.9,616.6L399.7,612.6L404.1,612.6L403.3,616.6ZM399.7,612.6L400.6,608.1L405.0,608.1L404.1,612.6ZM400.6,608.1L401.4,604.1L405.8,604.1L405.0,608.1ZM401.4,604.1L402.2,600.4L406.6,600.4L405.8,604.1ZM402.2,600.4L403.0,596.7L407.4,596.7L406.6,600.4ZM403.0,596.7L404.1,591.7L408.5,591.7L407.4,596.7ZM404.1,591.7L405.2,586.9L409.6,586.9L408.5,591.7ZM405.2,586.9L406.3,582.3L410.7,582.3L409.6,586.9ZM406.3,582.3L407.5,577.7L411.9,577.7L410.7,582.3ZM407.5,577.7L408.8,573.3L413.2,573.3L411.9,577.7ZM408.8,573.3L410.2,569.2L414.6,569.2L413.2,573.3ZM410.2,569.2L412.4,563.9L416.8,563.9L414.6,569.2ZM412.4,563.9L414.8,558.7L419.2,558.7L416.8,563.9ZM414.8,558.7L416.5,554.8L420.9,554.8L419.2,558.7ZM416.5,554.8L418.2,550.7L422.6,550.7L420.9,554.8ZM418.2,550.7L420.0,546.9L424.4,546.9L422.6,550.7ZM420.0,546.9L422.6,542.3L427.0,542.3L424.4,546.9ZM422.6,542.3L425.3,537.8L429.7,537.8L427.0,542.3ZM425.3,537.8L427.4,534.4L431.8,534.4L429.7,537.8ZM427.4,534.4L429.6,530.8L434.0,530.8L431.8,534.4ZM429.6,530.8L431.8,527.3L436.2,527.3L434.0,530.8ZM431.8,527.3L435.1,522.6L439.5,522.6L436.2,527.3ZM435.1,522.6L438.4,518.1L442.8,518.1L439.5,522.6ZM438.4,518.1L441.7,513.7L446.1,513.7L442.8,518.1ZM441.7,513.7L444.9,509.0L449.3,509.0L446.1,513.7ZM444.9,509.0L447.1,505.2L451.5,505.2L449.3,509.0ZM447.1,505.2L449.2,501.1L453.6,501.1L451.5,505.2ZM449.2,501.1L451.4,497.2L455.8,497.2L453.6,501.1ZM451.4,497.2L453.5,493.6L457.9,493.6L455.8,497.2ZM453.5,493.6L455.7,490.0L460.1,490.0L457.9,493.6ZM455.7,490.0L458.0,486.7L462.4,486.7L460.1,490.0ZM458.0,486.7L461.8,482.1L466.2,482.1L462.4,486.7ZM461.8,482.1L465.8,477.6L470.2,477.6L466.2,482.1ZM465.8,477.6L468.5,474.4L472.9,474.4L470.2,477.6ZM468.5,474.4L471.3,471.3L475.7,471.3L472.9,474.4ZM471.3,471.3L473.7,468.4L478.1,468.4L475.7,471.3ZM473.7,468.4L476.2,465.3L480.6,465.3L478.1,468.4ZM476.2,465.3L478.9,461.9L483.3,461.9L480.6,465.3ZM478.9,461.9L481.7,458.7L486.1,458.7L483.3,461.9ZM481.7,458.7L485.1,455.0L489.5,455.0L486.1,458.7ZM485.1,455.0L488.7,450.8L493.1,450.8L489.5,455.0ZM488.7,450.8L491.7,447.1L496.1,447.1L493.1,450.8ZM491.7,447.1L495.1,443.0L499.5,443.0L496.1,447.1ZM495.1,443.0L498.3,439.1L502.7,439.1L499.5,443.0ZM498.3,439.1L501.2,435.7L505.6,435.7L502.7,439.1ZM501.2,435.7L505.2,431.5L509.6,431.5L505.6,435.7ZM507.4,429.1L511.2,425.5L511.2,430.3L507.4,433.9ZM511.2,425.5L514.3,422.7L514.3,427.5L511.2,430.3ZM514.3,422.7L517.9,419.6L517.9,424.4L514.3,427.5ZM517.9,419.6L522.4,415.4L522.4,420.2L517.9,424.4ZM522.4,415.4L525.3,412.6L525.3,417.4L522.4,420.2ZM525.3,412.6L528.6,409.3L528.6,414.1L525.3,417.4ZM526.4,411.7L530.0,408.1L534.4,408.1L530.8,411.7ZM530.0,408.1L533.6,404.4L538.0,404.4L534.4,408.1ZM533.6,404.4L537.2,400.8L541.6,400.8L538.0,404.4ZM537.2,400.8L540.5,397.4L544.9,397.4L541.6,400.8ZM540.5,397.4L543.5,394.3L547.9,394.3L544.9,397.4ZM543.5,394.3L546.2,391.5L550.6,391.5L547.9,394.3ZM546.2,391.5L548.8,388.7L553.2,388.7L550.6,391.5ZM548.8,388.7L551.5,385.8L555.9,385.8L553.2,388.7ZM551.5,385.8L554.4,382.8L558.8,382.8L555.9,385.8ZM556.6,380.4L560.0,377.1L560.0,381.9L556.6,385.2ZM560.0,377.1L563.9,373.4L563.9,378.2L560.0,381.9ZM563.9,373.4L568.1,369.3L568.1,374.1L563.9,378.2ZM568.1,369.3L572.6,365.1L572.6,369.9L568.1,374.1ZM572.6,365.1L577.1,360.8L577.1,365.6L572.6,369.9ZM577.1,360.8L581.7,356.8L581.7,361.6L577.1,365.6ZM581.7,356.8L586.2,353.1L586.2,357.9L581.7,361.6ZM586.2,353.1L590.7,349.7L590.7,354.5L586.2,357.9ZM590.7,349.7L595.3,346.5L595.3,351.3L590.7,354.5ZM595.3,346.5L599.9,343.4L599.9,348.2L595.3,351.3ZM599.9,343.4L604.4,340.5L604.4,345.3L599.9,348.2ZM604.4,340.5L608.6,337.9L608.6,342.7L604.4,345.3ZM608.6,337.9L612.3,335.6L612.3,340.4L608.6,342.7ZM612.3,335.6L616.8,332.8L616.8,337.6L612.3,340.4ZM616.8,332.8L620.4,330.7L620.4,335.5L616.8,337.6ZM620.4,330.7L623.7,328.9L623.7,333.7L620.4,335.5ZM623.7,328.9L627.6,326.9L627.6,331.7L623.7,333.7ZM627.6,326.9L631.2,325.3L631.2,330.1L627.6,331.7ZM631.2,325.3L635.0,324.0L635.0,328.8L631.2,330.1ZM635.0,324.0L639.0,322.5L639.0,327.3L635.0,328.8ZM639.0,322.5L643.0,320.7L643.0,325.5L639.0,327.3ZM643.0,320.7L647.2,318.2L647.2,323.0L643.0,325.5ZM647.2,318.2L650.9,315.5L650.9,320.3L647.2,323.0ZM650.9,315.5L654.8,312.3L654.8,317.1L650.9,320.3ZM654.8,312.3L658.8,308.8L658.8,313.6L654.8,317.1ZM658.8,308.8L662.7,305.1L662.7,309.9L658.8,313.6ZM660.5,307.5L664.1,303.8L668.5,303.8L664.9,307.5ZM664.1,303.8L667.3,300.2L671.7,300.2L668.5,303.8ZM667.3,300.2L669.9,296.6L674.3,296.6L671.7,300.2ZM669.9,296.6L672.1,292.7L676.5,292.7L674.3,296.6ZM672.1,292.7L674.0,288.9L678.4,288.9L676.5,292.7ZM674.0,288.9L675.8,285.1L680.2,285.1L678.4,288.9ZM675.8,285.1L677.6,281.5L682.0,281.5L680.2,285.1ZM677.6,281.5L679.5,278.3L683.9,278.3L682.0,281.5ZM679.5,278.3L682.5,274.1L686.9,274.1L683.9,278.3ZM682.5,274.1L685.4,270.5L689.8,270.5L686.9,274.1ZM685.4,270.5L688.4,267.2L692.8,267.2L689.8,270.5ZM688.4,267.2L691.6,263.7L696.0,263.7L692.8,267.2ZM691.6,263.7L694.4,260.8L698.8,260.8L696.0,263.7ZM696.6,258.4L699.7,255.5L699.7,260.3L696.6,263.2ZM699.7,255.5L702.8,252.5L702.8,257.3L699.7,260.3ZM702.8,252.5L705.7,249.6L705.7,254.4L702.8,257.3ZM703.5,252.0L706.2,249.1L710.6,249.1L707.9,252.0ZM706.2,249.1L709.0,245.6L713.4,245.6L710.6,249.1ZM709.0,245.6L711.6,242.1L716.0,242.1L713.4,245.6ZM711.6,242.1L713.8,238.5L718.2,238.5L716.0,242.1ZM713.8,238.5L716.0,234.5L720.4,234.5L718.2,238.5ZM716.0,234.5L717.6,230.9L722.0,230.9L720.4,234.5ZM717.6,230.9L719.0,226.9L723.4,226.9L722.0,230.9ZM719.0,226.9L720.3,222.9L724.7,222.9L723.4,226.9ZM720.3,222.9L721.7,218.8L726.1,218.8L724.7,222.9ZM721.7,218.8L723.3,215.0L727.7,215.0L726.1,218.8ZM723.3,215.0L725.4,210.5L729.8,210.5L727.7,215.0ZM725.4,210.5L727.7,206.2L732.1,206.2L729.8,210.5ZM727.7,206.2L730.2,202.0L734.6,202.0L732.1,206.2ZM730.2,202.0L733.0,198.0L737.4,198.0L734.6,202.0ZM733.0,198.0L735.6,194.8L740.0,194.8L737.4,198.0ZM735.6,194.8L738.4,191.8L742.8,191.8L740.0,194.8ZM738.4,191.8L741.3,188.8L745.7,188.8L742.8,191.8ZM743.5,186.4L746.6,183.6L746.6,188.4L743.5,191.2ZM746.6,183.6L749.8,181.0L749.8,185.8L746.6,188.4ZM749.8,181.0L753.8,178.1L753.8,182.9L749.8,185.8ZM753.8,178.1L758.0,175.5L758.0,180.3L753.8,182.9ZM758.0,175.5L762.4,173.2L762.4,178.0L758.0,180.3ZM762.4,173.2L766.9,171.2L766.9,176.0L762.4,178.0ZM766.9,171.2L771.7,169.5L771.7,174.3L766.9,176.0ZM771.7,169.5L776.7,168.1L776.7,172.9L771.7,174.3ZM776.7,168.1L781.7,167.0L781.7,171.8L776.7,172.9ZM781.7,167.0L786.3,166.4L786.3,171.2L781.7,171.8ZM786.3,166.4L791.8,166.2L791.8,171.0L786.3,171.2ZM791.8,166.2L796.8,166.7L796.8,171.5L791.8,171.0ZM796.8,166.7L801.8,168.4L801.8,173.2L796.8,171.5ZM801.8,168.4L805.8,170.6L805.8,175.4L801.8,173.2ZM805.8,170.6L809.8,173.5L809.8,178.3L805.8,175.4ZM809.8,173.5L813.7,177.0L813.7,181.8L809.8,178.3ZM815.9,179.4L819.5,183.2L815.1,183.2L811.5,179.4ZM819.5,183.2L822.0,186.6L817.6,186.6L815.1,183.2ZM822.0,186.6L824.2,190.4L819.8,190.4L817.6,186.6ZM824.2,190.4L826.3,194.5L821.9,194.5L819.8,190.4ZM826.3,194.5L828.3,198.4L823.9,198.4L821.9,194.5ZM828.3,198.4L830.4,202.0L826.0,202.0L823.9,198.4ZM830.4,202.0L833.2,205.9L828.8,205.9L826.0,202.0ZM833.2,205.9L836.0,209.5L831.6,209.5L828.8,205.9ZM836.0,209.5L838.7,213.1L834.3,213.1L831.6,209.5ZM838.7,213.1L841.3,216.9L836.9,216.9L834.3,213.1ZM841.3,216.9L843.7,221.2L839.3,221.2L836.9,216.9ZM843.7,221.2L845.9,225.7L841.5,225.7L839.3,221.2ZM845.9,225.7L848.0,230.2L843.6,230.2L841.5,225.7ZM848.0,230.2L850.0,234.6L845.6,234.6L843.6,230.2ZM850.0,234.6L851.8,238.7L847.4,238.7L845.6,234.6ZM851.8,238.7L853.4,242.6L849.0,242.6L847.4,238.7ZM853.4,242.6L855.0,246.5L850.6,246.5L849.0,242.6ZM855.0,246.5L856.6,250.8L852.2,250.8L850.6,246.5ZM856.6,250.8L857.9,254.5L853.5,254.5L852.2,250.8ZM857.9,254.5L859.3,258.3L854.9,258.3L853.5,254.5ZM859.3,258.3L860.7,262.3L856.3,262.3L854.9,258.3ZM860.7,262.3L861.9,266.4L857.5,266.4L856.3,262.3ZM861.9,266.4L863.1,270.5L858.7,270.5L857.5,266.4ZM863.1,270.5L864.1,274.8L859.7,274.8L858.7,270.5ZM864.1,274.8L864.9,279.4L860.5,279.4L859.7,274.8ZM864.9,279.4L865.7,284.0L861.3,284.0L860.5,279.4ZM865.7,284.0L866.5,288.3L862.1,288.3L861.3,284.0ZM866.5,288.3L867.5,292.3L863.1,292.3L862.1,288.3ZM867.5,292.3L868.9,296.6L864.5,296.6L863.1,292.3ZM868.9,296.6L870.5,300.3L866.1,300.3L864.5,296.6ZM870.5,300.3L872.2,303.8L867.8,303.8L866.1,300.3ZM872.2,303.8L874.0,307.5L869.6,307.5L867.8,303.8ZM874.0,307.5L876.1,311.3L871.7,311.3L869.6,307.5ZM876.1,311.3L878.3,315.1L873.9,315.1L871.7,311.3ZM878.3,315.1L880.6,319.0L876.2,319.0L873.9,315.1ZM880.6,319.0L882.7,322.8L878.3,322.8L876.2,319.0ZM882.7,322.8L884.5,326.7L880.1,326.7L878.3,322.8ZM884.5,326.7L886.1,330.7L881.7,330.7L880.1,326.7ZM886.1,330.7L887.7,334.6L883.3,334.6L881.7,330.7ZM887.7,334.6L889.3,338.2L884.9,338.2L883.3,334.6ZM889.3,338.2L891.5,342.5L887.1,342.5L884.9,338.2ZM891.5,342.5L893.6,346.5L889.2,346.5L887.1,342.5ZM893.6,346.5L895.8,350.5L891.4,350.5L889.2,346.5ZM893.6,348.1L898.1,348.3L898.1,353.1L893.6,352.9ZM898.1,348.3L902.7,348.5L902.7,353.3L898.1,353.1ZM902.7,348.5L907.4,348.7L907.4,353.5L902.7,353.3ZM907.4,348.7L911.9,348.9L911.9,353.7L907.4,353.5ZM911.9,348.9L916.1,348.9L916.1,353.7L911.9,353.7ZM916.1,348.9L919.8,348.7L919.8,353.5L916.1,353.7ZM919.8,348.7L925.5,347.8L925.5,352.6L919.8,353.5ZM925.5,347.8L929.9,346.3L929.9,351.1L925.5,352.6ZM929.9,346.3L935.1,344.4L935.1,349.2L929.9,351.1ZM935.1,344.4L939.1,342.9L939.1,347.7L935.1,349.2ZM939.1,342.9L943.6,341.3L943.6,346.1L939.1,347.7ZM943.6,341.3L948.2,339.4L948.2,344.2L943.6,346.1ZM948.2,339.4L952.7,337.5L952.7,342.3L948.2,344.2ZM952.7,337.5L956.9,335.6L956.9,340.4L952.7,342.3ZM956.9,335.6L961.4,333.4L961.4,338.2L956.9,340.4ZM961.4,333.4L965.4,331.3L965.4,336.1L961.4,338.2ZM965.4,331.3L969.5,328.9L969.5,333.7L965.4,336.1ZM969.5,328.9L974.3,325.8L974.3,330.6L969.5,333.7ZM974.3,325.8L978.0,323.3L978.0,328.1L974.3,330.6ZM978.0,323.3L981.9,320.5L981.9,325.3L978.0,328.1ZM981.9,320.5L986.0,317.5L986.0,322.3L981.9,325.3ZM986.0,317.5L990.3,314.3L990.3,319.1L986.0,322.3ZM990.3,314.3L995.0,311.0L995.0,315.8L990.3,319.1ZM995.0,311.0L1000.0,307.6L1000.0,312.4L995.0,315.8ZM1000.0,307.6L1005.5,304.0L1005.5,308.8L1000.0,312.4ZM1005.5,304.0L1011.4,300.1L1011.4,304.9L1005.5,308.8ZM1011.4,300.1L1017.6,296.1L1017.6,300.9L1011.4,304.9ZM1017.6,296.1L1023.9,292.1L1023.9,296.9L1017.6,300.9ZM1023.9,292.1L1030.3,288.2L1030.3,293.0L1023.9,296.9ZM1030.3,288.2L1036.5,284.7L1036.5,289.5L1030.3,293.0ZM1036.5,284.7L1042.7,281.4L1042.7,286.2L1036.5,289.5ZM1042.7,281.4L1049.1,278.2L1049.1,283.0L1042.7,286.2ZM1049.1,278.2L1055.5,275.2L1055.5,280.0L1049.1,283.0ZM1055.5,275.2L1061.7,272.4L1061.7,277.2L1055.5,280.0ZM1061.7,272.4L1067.6,269.9L1067.6,274.7L1061.7,277.2ZM1067.6,269.9L1073.0,267.7L1073.0,272.5L1067.6,274.7ZM1073.0,267.7L1077.9,265.9L1077.9,270.7L1073.0,272.5ZM1077.9,265.9L1082.4,264.4L1082.4,269.2L1077.9,270.7ZM1082.4,264.4L1086.5,263.2L1086.5,268.0L1082.4,269.2ZM1086.5,263.2L1090.4,262.2L1090.4,267.0L1086.5,268.0ZM1090.4,262.2L1094.0,261.3L1094.0,266.1L1090.4,267.0ZM1094.0,261.3L1097.4,260.4L1097.4,265.2L1094.0,266.1ZM1097.4,260.4L1103.2,259.0L1103.2,263.8L1097.4,265.2ZM1103.2,259.0L1108.0,257.9L1108.0,262.7L1103.2,263.8ZM1108.0,257.9L1112.7,256.6L1112.7,261.4L1108.0,262.7ZM1112.7,256.6L1116.3,254.9L1116.3,259.7L1112.7,261.4ZM1116.3,254.9L1119.8,252.9L1119.8,257.7L1116.3,259.7ZM1119.8,252.9L1126.6,250.6L1126.6,255.4L1119.8,257.7ZM1126.6,250.6L1132.3,249.3L1132.3,254.1L1126.6,255.4ZM1132.3,249.3L1139.3,247.9L1139.3,252.7L1132.3,254.1ZM1139.3,247.9L1147.1,246.4L1147.1,251.2L1139.3,252.7ZM1147.1,246.4L1155.2,244.8L1155.2,249.6L1147.1,251.2ZM1155.2,244.8L1163.2,243.4L1163.2,248.2L1155.2,249.6ZM1163.2,243.4L1170.4,242.1L1170.4,246.9L1163.2,248.2ZM1170.4,242.1L1176.9,240.9L1176.9,245.7L1170.4,246.9ZM1176.9,240.9L1183.1,239.9L1183.1,244.7L1176.9,245.7ZM1183.1,239.9L1189.1,238.9L1189.1,243.7L1183.1,244.7ZM1189.1,238.9L1195.0,237.9L1195.0,242.7L1189.1,243.7ZM1195.0,237.9L1200.9,237.0L1200.9,241.8L1195.0,242.7ZM1200.9,237.0L1206.9,236.0L1206.9,240.8L1200.9,241.8ZM1206.9,236.0L1213.1,234.9L1213.1,239.7L1206.9,240.8ZM1213.1,234.9L1219.5,233.8L1219.5,238.6L1213.1,239.7ZM1219.5,233.8L1225.9,232.7L1225.9,237.5L1219.5,238.6ZM1225.9,232.7L1232.1,231.6L1232.1,236.4L1225.9,237.5ZM1232.1,231.6L1238.0,230.6L1238.0,235.4L1232.1,236.4ZM1238.0,230.6L1243.4,229.9L1243.4,234.7L1238.0,235.4ZM1243.4,229.9L1248.2,229.4L1248.2,234.2L1243.4,234.7ZM1248.2,229.4L1252.4,229.2L1252.4,234.0L1248.2,234.2ZM1252.4,229.2L1256.4,229.1L1256.4,233.9L1252.4,234.0ZM1256.4,229.1L1260.1,229.0L1260.1,233.8L1256.4,233.9ZM1260.1,229.0L1263.9,228.9L1263.9,233.7L1260.1,233.8ZM1263.9,228.9L1267.8,228.6L1267.8,233.4L1263.9,233.7ZM1267.8,228.6L1271.6,228.2L1271.6,233.0L1267.8,233.4ZM1271.6,228.2L1275.0,227.7L1275.0,232.5L1271.6,233.0ZM1275.0,227.7L1278.4,227.2L1278.4,232.0L1275.0,232.5ZM1278.4,227.2L1282.2,226.6L1282.2,231.4L1278.4,232.0ZM1282.2,226.6L1286.6,225.9L1286.6,230.7L1282.2,231.4ZM1286.6,225.9L1292.1,225.1L1292.1,229.9L1286.6,230.7ZM1292.1,225.1L1298.8,224.1L1298.8,228.9L1292.1,229.9ZM1298.8,224.1L1306.5,222.9L1306.5,227.7L1298.8,228.9ZM1306.5,222.9L1314.9,221.5L1314.9,226.3L1306.5,227.7ZM1314.9,221.5L1323.7,220.2L1323.7,225.0L1314.9,226.3ZM1323.7,220.2L1332.4,218.9L1332.4,223.7L1323.7,225.0ZM1332.4,218.9L1340.8,217.8L1340.8,222.6L1332.4,223.7ZM1340.8,217.8L1349.1,216.8L1349.1,221.6L1340.8,222.6ZM1349.1,216.8L1357.6,216.0L1357.6,220.8L1349.1,221.6ZM1357.6,216.0L1366.1,215.1L1366.1,219.9L1357.6,220.8ZM1366.1,215.1L1374.3,214.4L1374.3,219.2L1366.1,219.9ZM1374.3,214.4L1382.2,213.6L1382.2,218.4L1374.3,219.2ZM1382.2,213.6L1389.5,212.9L1389.5,217.7L1382.2,218.4ZM1389.5,212.9L1396.3,212.2L1396.3,217.0L1389.5,217.7ZM1396.3,212.2L1402.7,211.5L1402.7,216.3L1396.3,217.0ZM1402.7,211.5L1408.7,210.9L1408.7,215.7L1402.7,216.3ZM1408.7,210.9L1414.2,210.2L1414.2,215.0L1408.7,215.7ZM1414.2,210.2L1419.2,209.6L1419.2,214.4L1414.2,215.0ZM1419.2,209.6L1423.6,208.9L1423.6,213.7L1419.2,214.4ZM1423.6,208.9L1429.6,207.4L1429.6,212.2L1423.6,213.7ZM1429.6,207.4L1433.3,205.9L1433.3,210.7L1429.6,212.2ZM1433.3,205.9L1438.2,204.4L1438.2,209.2L1433.3,210.7ZM1438.2,204.4L1441.5,203.7L1441.5,208.5L1438.2,209.2ZM1441.5,203.7L1445.1,203.1L1445.1,207.9L1441.5,208.5ZM1445.1,203.1L1448.9,202.6L1448.9,207.4L1445.1,207.9ZM1448.9,202.6L1453.1,202.0L1453.1,206.8L1448.9,207.4ZM1453.1,202.0L1457.6,201.4L1457.6,206.2L1453.1,206.8ZM1457.6,201.4L1462.5,200.7L1462.5,205.5L1457.6,206.2ZM1462.5,200.7L1467.8,200.0L1467.8,204.8L1462.5,205.5ZM1467.8,200.0L1473.4,199.4L1473.4,204.2L1467.8,204.8ZM1473.4,199.4L1479.5,198.7L1479.5,203.5L1473.4,204.2ZM1479.5,198.7L1485.9,198.0L1485.9,202.8L1479.5,203.5ZM1485.9,198.0L1492.7,197.1L1492.7,201.9L1485.9,202.8ZM1492.7,197.1L1500.0,195.9L1500.0,200.7L1492.7,201.9ZM1500.0,195.9L1508.3,194.4L1508.3,199.2L1500.0,200.7ZM1508.3,194.4L1517.5,192.5L1517.5,197.3L1508.3,199.2ZM1517.5,192.5L1527.3,190.4L1527.3,195.2L1517.5,197.3ZM1527.3,190.4L1536.8,188.4L1536.8,193.2L1527.3,195.2ZM1536.8,188.4L1545.6,186.6L1545.6,191.4L1536.8,193.2ZM1545.6,186.6L1553.0,185.2L1553.0,190.0L1545.6,191.4ZM1553.0,185.2L1558.8,184.3L1558.8,189.1L1553.0,190.0ZM1558.8,184.3L1563.6,183.9L1563.6,188.7L1558.8,189.1ZM1563.6,183.9L1567.5,183.6L1567.5,188.4L1563.6,188.7ZM1567.5,183.6L1571.0,183.5L1571.0,188.3L1567.5,188.4ZM1571.0,183.5L1574.5,183.3L1574.5,188.1L1571.0,188.3ZM1574.5,183.3L1578.3,182.9L1578.3,187.7L1574.5,188.1ZM1578.3,182.9L1581.9,182.4L1581.9,187.2L1578.3,187.7ZM1581.9,182.4L1584.2,182.1L1584.2,186.9L1581.9,187.2ZM1584.2,182.1L1587.1,181.6L1587.1,186.4L1584.2,186.9ZM1587.1,181.6L1592.3,180.7L1592.3,185.5L1587.1,186.4ZM1592.3,180.7L1601.7,179.1L1601.7,183.9L1592.3,185.5ZM1601.7,179.1L1614.4,176.9L1614.4,181.7L1601.7,183.9ZM1614.4,176.9L1631.0,174.0L1631.0,178.8L1614.4,181.7ZM1631.0,174.0L1649.7,170.7L1649.7,175.5L1631.0,178.8ZM1649.7,170.7L1668.6,167.4L1668.6,172.2L1649.7,175.5ZM1668.6,167.4L1685.7,164.4L1685.7,169.2L1668.6,172.2ZM1685.7,164.4L1699.1,162.1L1699.1,166.9L1685.7,169.2ZM1699.1,162.1L1708.4,160.6L1708.4,165.4L1699.1,166.9ZM1708.4,160.6L1715.0,159.5L1715.0,164.3L1708.4,165.4ZM1715.0,159.5L1719.8,158.8L1719.8,163.7L1715.0,164.3ZM1719.8,158.8L1723.8,158.3L1723.8,163.1L1719.8,163.7ZM1723.8,158.3L1728.0,157.8L1728.0,162.6L1723.8,163.1ZM1728.0,157.8L1733.2,157.0L1733.2,161.8L1728.0,162.6ZM1733.2,157.0L1738.7,156.2L1738.7,161.0L1733.2,161.8ZM1738.7,156.2L1743.6,155.6L1743.6,160.4L1738.7,161.0ZM1743.6,155.6L1748.7,154.9L1748.7,159.7L1743.6,160.4ZM1748.7,154.9L1754.6,154.1L1754.6,158.9L1748.7,159.7ZM1754.6,154.1L1762.2,152.9L1762.2,157.7L1754.6,158.9ZM1762.2,152.9L1772.1,151.2L1772.1,156.0L1762.2,157.7ZM1772.1,151.2L1785.8,148.7L1785.8,153.5L1772.1,156.0ZM1785.8,148.7L1803.1,145.4L1803.1,150.2L1785.8,153.5ZM1803.1,145.4L1822.0,141.8L1822.0,146.6L1803.1,150.2ZM1822.0,141.8L1840.6,138.3L1840.6,143.1L1822.0,146.6ZM1840.6,138.3L1857.1,135.2L1857.1,140.0L1840.6,143.1ZM1857.1,135.2L1869.5,132.9L1869.5,137.7L1857.1,140.0ZM1869.5,132.9L1879.6,131.2L1879.6,136.0L1869.5,137.7ZM1879.6,131.2L1883.5,130.8L1883.5,135.6L1879.6,136.0ZM1883.5,130.8L1885.3,130.9L1885.3,135.7L1883.5,135.6ZM1885.3,130.9L1889.0,130.5L1889.0,135.3L1885.3,135.7ZM1889.0,130.5L1893.1,129.9L1893.1,134.7L1889.0,135.3ZM1893.1,129.9L1897.4,129.3L1897.4,134.1L1893.1,134.7ZM1897.4,129.3L1902.0,128.6L1902.0,133.4L1897.4,134.1ZM1902.0,128.6L1906.9,127.8L1906.9,132.6L1902.0,133.4ZM1906.9,127.8L1912.3,127.1L1912.3,131.9L1906.9,132.6ZM1912.3,127.1L1918.2,126.3L1918.2,131.1L1912.3,131.9ZM1918.2,126.3L1924.8,125.5L1924.8,130.3L1918.2,131.1ZM1924.8,125.5L1932.0,124.7L1932.0,129.5L1924.8,130.3ZM1932.0,124.7L1939.7,123.8L1939.7,128.6L1932.0,129.5ZM1939.7,123.8L1947.6,122.9L1947.6,127.7L1939.7,128.6ZM1947.6,122.9L1955.5,122.1L1955.5,126.9L1947.6,127.7ZM1955.5,122.1L1963.2,121.2L1963.2,126.0L1955.5,126.9ZM353.3,564.7L355.5,562.3L357.7,564.7L355.5,567.1ZM505.2,431.5L507.4,429.1L509.6,431.5L507.4,433.9ZM526.4,411.7L528.6,409.3L530.8,411.7L528.6,414.1ZM554.4,382.8L556.6,380.4L558.8,382.8L556.6,385.2ZM660.5,307.5L662.7,305.1L664.9,307.5L662.7,309.9ZM694.4,260.8L696.6,258.4L698.8,260.8L696.6,263.2ZM703.5,252.0L705.7,249.6L707.9,252.0L705.7,254.4ZM741.3,188.8L743.5,186.4L745.7,188.8L743.5,191.2ZM811.5,179.4L813.7,177.0L815.9,179.4L813.7,181.8ZM891.4,350.5L893.6,348.1L895.8,350.5L893.6,352.9Z" fill="#ff0000" shape-rendering="crispEdges"/>
<polygon points="335.0,527.7 353.8,559.7 316.2,559.7" fill="#ff0000" shape-rendering="crispEdges"/>
<polygon points="490.9,429.5 509.6,461.5 472.1,461.5" fill="#ff0000" shape-rendering="crispEdges"/>
<polygon points="647.2,299.3 666.0,331.3 628.5,331.3" fill="#ff0000" shape-rendering="crispEdges"/>
<polygon points="801.8,149.5 820.5,181.5 783.0,181.5" fill="#ff0000" shape-rendering="crispEdges"/>
<polygon points="956.9,316.7 975.6,348.7 938.1,348.7" fill="#ff0000" shape-rendering="crispEdges"/>
<polygon points="1112.7,237.7 1131.5,269.7 1094.0,269.7" fill="#ff0000" shape-rendering="crispEdges"/>
<polygon points="1267.8,209.7 1286.5,241.7 1249.0,241.7" fill="#ff0000" shape-rendering="crispEdges"/>
<polygon points="1423.6,190.0 1442.3,222.0 1404.8,222.0" fill="#ff0000" shape-rendering="crispEdges"/>
<polygon points="1578.3,164.0 1597.0,196.0 1559.5,196.0" fill="#ff0000" shape-rendering="crispEdges"/>
<polygon points="1733.2,138.1 1752.0,170.1 1714.5,170.1" fill="#ff0000" shape-rendering="crispEdges"/>
<polygon points="1889.0,111.6 1907.8,143.6 1870.2,143.6" fill="#ff0000" shape-rendering="crispEdges"/>
<polyline points="741.5,815.2 744.7,819.1 747.8,822.9 751.0,827.0 753.4,830.3 755.8,833.9 758.1,837.4 760.3,840.7 762.9,844.6 765.2,848.2 767.5,852.0 769.7,856.1 771.8,860.4 773.8,864.8 775.8,869.4 777.7,874.1 779.5,879.0 780.8,882.5 782.0,885.9 783.2,889.6 784.5,894.3 785.4,898.1 786.4,902.4 787.3,907.0 788.3,911.8 789.2,916.6 789.9,921.2 790.5,925.7 791.0,930.1 791.5,934.6 791.9,939.1 792.3,943.5 792.6,948.0 792.9,951.5 793.1,953.8 793.2,956.1 793.4,959.6 793.7,965.5 794.0,975.0 794.5,988.8 795.0,1006.3 795.7,1026.1 796.3,1047.1 797.0,1068.1 797.6,1087.9 797.9,1068.1 798.3,1047.1 798.7,1026.1 799.0,1006.3 799.3,988.8 799.6,975.0 799.8,965.5 799.9,959.6 799.9,956.1 800.1,953.8 800.3,951.5 800.7,948.0 801.3,943.5 802.2,938.9 803.1,934.3 804.1,929.7 805.1,925.4 806.0,921.2 807.1,916.5 808.2,912.0 809.2,907.6 810.3,903.6 811.4,899.7 812.8,895.1 814.2,890.9 815.6,887.1 816.8,883.7 818.7,878.8 820.5,875.0 822.4,871.4 824.9,867.6 827.2,864.2 830.0,860.5 833.0,856.8 836.4,853.1 840.0,849.5 843.7,846.1 847.1,843.2 850.4,840.6 854.4,838.0 858.0,836.0 862.0,834.1 866.2,832.1 870.5,829.9 873.9,828.0 877.3,825.9 880.7,823.7 884.3,821.6 888.0,819.5 891.8,817.5 895.6,815.7 899.6,813.8 903.8,811.8 908.2,809.8 912.1,808.0 916.1,806.1 920.3,804.2 924.6,802.3 929.0,800.3 933.5,798.4 938.2,796.5 943.1,794.4 948.2,792.4 953.1,790.5 957.8,788.7 962.0,787.0 967.2,785.0 971.4,783.4 975.5,781.9 980.2,779.9 983.8,778.2 987.6,776.3 991.6,774.3 995.6,772.3 999.6,770.4 1003.6,768.6 1007.5,767.1 1011.4,765.7 1015.3,764.4 1019.2,763.1 1023.1,761.8 1027.0,760.4 1030.8,758.9 1034.5,757.4 1038.2,755.9 1042.0,754.3 1046.0,752.7 1050.3,751.0 1055.0,749.2 1060.0,747.3 1065.3,745.3 1070.6,743.4 1076.0,741.5 1081.2,739.7 1086.4,738.0 1091.5,736.5 1096.7,734.9 1101.9,733.4 1107.1,731.9 1112.3,730.4 1117.5,728.8 1122.7,727.3 1127.9,725.7 1133.1,724.1 1138.3,722.6 1143.5,721.0 1148.7,719.4 1153.9,717.8 1159.0,716.2 1164.2,714.6 1169.4,713.1 1174.6,711.7 1179.8,710.4 1185.0,709.2 1190.2,708.1 1195.4,707.0 1200.6,705.8 1205.8,704.7 1211.0,703.5 1216.2,702.3 1221.4,701.1 1226.5,699.9 1231.7,698.7 1236.9,697.6 1242.1,696.5 1247.3,695.4 1252.5,694.4 1257.7,693.3 1262.9,692.3 1268.1,691.4 1273.3,690.5 1278.5,689.7 1283.7,688.9 1288.9,688.2 1294.1,687.4 1299.3,686.7 1304.7,686.0 1310.2,685.3 1315.8,684.7 1321.2,684.0 1326.1,683.4 1330.4,682.8 1337.2,681.7 1342.4,680.7 1346.0,679.7 1348.3,677.0 1348.4,658.5 1348.4,632.1 1348.4,601.4 1348.3,570.0 1348.3,541.7 1348.3,520.0 1348.4,505.2 1348.6,494.5 1348.8,486.8 1349.0,481.0 1349.3,476.1 1349.5,471.0 1350.0,464.7 1350.5,461.1 1351.0,458.1 1351.3,453.7 1351.4,449.6 1351.3,445.1 1351.2,440.3 1351.2,435.2 1351.2,430.0 1351.3,424.7 1351.6,419.1 1352.1,413.1 1352.6,406.9 1353.1,400.8 1353.7,395.0 1354.2,389.8 1354.8,384.2 1355.4,379.1 1355.9,374.4 1356.5,370.2 1357.1,366.5 1358.5,360.0 1360.0,354.9 1361.5,349.3 1362.9,343.3 1363.6,338.3 1364.1,332.9 1364.7,328.1 1365.6,322.5 1366.5,318.0 1368.4,310.9 1369.1,307.3 1370.0,302.9 1370.9,298.4 1371.7,294.5 1373.1,288.8 1374.4,283.6 1375.5,279.2 1376.6,274.6 1377.7,270.5 1379.1,266.0 1380.4,261.8 1382.0,256.3 1383.7,250.9 1385.3,246.8 1387.0,243.2 1390.3,236.7 1393.0,230.2 1394.3,226.4 1395.7,222.5 1397.3,218.7 1399.0,214.9 1400.9,211.2 1402.8,207.3 1404.4,203.3 1406.1,198.5 1407.6,194.1 1409.3,189.1 1410.9,184.4 1412.8,178.7 1414.5,173.5 1416.0,168.7 1417.4,164.0 1419.0,159.2 1420.7,154.6 1422.3,150.8 1424.0,147.3 1425.8,143.6 1427.6,140.1 1431.3,134.2 1436.3,128.4 1442.2,124.1 1446.2,121.6 1450.9,119.0 1454.4,117.2 1458.1,115.5 1461.8,113.9 1467.5,112.0 1472.7,110.3 1480.0,107.4 1483.0,106.7 1486.6,105.8 1490.7,104.9 1495.0,104.0 1499.4,103.0 1503.6,102.2 1507.7,101.4 1511.9,100.6 1516.2,99.8 1520.5,99.1 1524.7,98.4 1529.0,97.8 1533.2,97.3 1537.5,96.8 1541.7,96.4 1546.0,96.1 1550.2,95.7 1554.5,95.3 1558.1,94.9 1561.0,94.6 1563.9,94.3 1567.5,93.9 1572.6,93.4 1580.0,92.9 1590.2,92.2 1602.6,91.5 1616.5,90.6 1631.2,89.7 1645.9,88.8 1659.8,87.9 1673.1,87.0 1686.4,86.0 1699.7,85.1 1713.1,84.1 1726.4,83.1 1739.7,82.0 1753.0,80.9 1766.3,79.7 1779.6,78.4 1792.9,77.2 1806.2,76.1 1819.5,75.0 1833.0,74.0 1846.7,73.1 1860.4,72.2 1873.9,71.4 1887.0,70.7 1899.4,70.0 1911.1,69.4 1922.1,69.0 1932.7,68.6 1943.2,68.3 1953.6,68.0 1964.2,67.6" fill="none" stroke="#000" stroke-width="4.9" stroke-linejoin="round" stroke-linecap="butt" shape-rendering="crispEdges"/><path d="M744.1,815.2L747.3,819.1L742.1,819.1L738.9,815.2ZM747.3,819.1L750.4,822.9L745.2,822.9L742.1,819.1ZM750.4,822.9L753.6,827.0L748.4,827.0L745.2,822.9ZM753.6,827.0L756.0,830.3L750.8,830.3L748.4,827.0ZM756.0,830.3L758.4,833.9L753.2,833.9L750.8,830.3ZM758.4,833.9L760.7,837.4L755.5,837.4L753.2,833.9ZM760.7,837.4L762.9,840.7L757.7,840.7L755.5,837.4ZM762.9,840.7L765.5,844.6L760.3,844.6L757.7,840.7ZM765.5,844.6L767.8,848.2L762.6,848.2L760.3,844.6ZM767.8,848.2L770.1,852.0L764.9,852.0L762.6,848.2ZM770.1,852.0L772.3,856.1L767.1,856.1L764.9,852.0ZM772.3,856.1L774.4,860.4L769.2,860.4L767.1,856.1ZM774.4,860.4L776.4,864.8L771.2,864.8L769.2,860.4ZM776.4,864.8L778.4,869.4L773.2,869.4L771.2,864.8ZM778.4,869.4L780.3,874.1L775.1,874.1L773.2,869.4ZM780.3,874.1L782.1,879.0L776.9,879.0L775.1,874.1ZM782.1,879.0L783.4,882.5L778.2,882.5L776.9,879.0ZM783.4,882.5L784.6,885.9L779.4,885.9L778.2,882.5ZM784.6,885.9L785.8,889.6L780.6,889.6L779.4,885.9ZM785.8,889.6L787.1,894.3L781.9,894.3L780.6,889.6ZM787.1,894.3L788.0,898.1L782.8,898.1L781.9,894.3ZM788.0,898.1L789.0,902.4L783.8,902.4L782.8,898.1ZM789.0,902.4L789.9,907.0L784.7,907.0L783.8,902.4ZM789.9,907.0L790.9,911.8L785.7,911.8L784.7,907.0ZM790.9,911.8L791.8,916.6L786.6,916.6L785.7,911.8ZM791.8,916.6L792.5,921.2L787.3,921.2L786.6,916.6ZM792.5,921.2L793.1,925.7L787.9,925.7L787.3,921.2ZM793.1,925.7L793.6,930.1L788.4,930.1L787.9,925.7ZM793.6,930.1L794.1,934.6L788.9,934.6L788.4,930.1ZM794.1,934.6L794.5,939.1L789.3,939.1L788.9,934.6ZM794.5,939.1L794.9,943.5L789.7,943.5L789.3,939.1ZM794.9,943.5L795.2,948.0L790.0,948.0L789.7,943.5ZM795.2,948.0L795.5,951.5L790.3,951.5L790.0,948.0ZM795.5,951.5L795.7,953.8L790.5,953.8L790.3,951.5ZM795.7,953.8L795.8,956.1L790.6,956.1L790.5,953.8ZM795.8,956.1L796.0,959.6L790.8,959.6L790.6,956.1ZM796.0,959.6L796.3,965.5L791.1,965.5L790.8,959.6ZM796.3,965.5L796.6,975.0L791.4,975.0L791.1,965.5ZM796.6,975.0L797.1,988.8L791.9,988.8L791.4,975.0ZM797.1,988.8L797.6,1006.3L792.4,1006.3L791.9,988.8ZM797.6,1006.3L798.3,1026.1L793.1,1026.1L792.4,1006.3ZM798.3,1026.1L798.9,1047.1L793.7,1047.1L793.1,1026.1ZM798.9,1047.1L799.6,1068.1L794.4,1068.1L793.7,1047.1ZM799.6,1068.1L800.2,1087.9L795.0,1087.9L794.4,1068.1ZM795.0,1087.9L795.3,1068.1L800.5,1068.1L800.2,1087.9ZM795.3,1068.1L795.7,1047.1L800.9,1047.1L800.5,1068.1ZM795.7,1047.1L796.1,1026.1L801.3,1026.1L800.9,1047.1ZM796.1,1026.1L796.4,1006.3L801.6,1006.3L801.3,1026.1ZM796.4,1006.3L796.7,988.8L801.9,988.8L801.6,1006.3ZM796.7,988.8L797.0,975.0L802.2,975.0L801.9,988.8ZM797.0,975.0L797.2,965.5L802.4,965.5L802.2,975.0ZM797.2,965.5L797.3,959.6L802.5,959.6L802.4,965.5ZM797.3,959.6L797.3,956.1L802.5,956.1L802.5,959.6ZM797.3,956.1L797.5,953.8L802.7,953.8L802.5,956.1ZM797.5,953.8L797.7,951.5L802.9,951.5L802.7,953.8ZM797.7,951.5L798.1,948.0L803.3,948.0L802.9,951.5ZM798.1,948.0L798.7,943.5L803.9,943.5L803.3,948.0ZM798.7,943.5L799.6,938.9L804.8,938.9L803.9,943.5ZM799.6,938.9L800.5,934.3L805.7,934.3L804.8,938.9ZM800.5,934.3L801.5,929.7L806.7,929.7L805.7,934.3ZM801.5,929.7L802.5,925.4L807.7,925.4L806.7,929.7ZM802.5,925.4L803.4,921.2L808.6,921.2L807.7,925.4ZM803.4,921.2L804.5,916.5L809.7,916.5L808.6,921.2ZM804.5,916.5L805.6,912.0L810.8,912.0L809.7,916.5ZM805.6,912.0L806.6,907.6L811.8,907.6L810.8,912.0ZM806.6,907.6L807.7,903.6L812.9,903.6L811.8,907.6ZM807.7,903.6L808.8,899.7L814.0,899.7L812.9,903.6ZM808.8,899.7L810.2,895.1L815.4,895.1L814.0,899.7ZM810.2,895.1L811.6,890.9L816.8,890.9L815.4,895.1ZM811.6,890.9L813.0,887.1L818.2,887.1L816.8,890.9ZM813.0,887.1L814.2,883.7L819.4,883.7L818.2,887.1ZM814.2,883.7L816.1,878.8L821.3,878.8L819.4,883.7ZM816.1,878.8L817.9,875.0L823.1,875.0L821.3,878.8ZM817.9,875.0L819.8,871.4L825.0,871.4L823.1,875.0ZM819.8,871.4L822.3,867.6L827.5,867.6L825.0,871.4ZM822.3,867.6L824.6,864.2L829.8,864.2L827.5,867.6ZM824.6,864.2L827.4,860.5L832.6,860.5L829.8,864.2ZM827.4,860.5L830.4,856.8L835.6,856.8L832.6,860.5ZM830.4,856.8L833.8,853.1L839.0,853.1L835.6,856.8ZM836.4,850.4L840.0,846.7L840.0,852.2L836.4,855.9ZM840.0,846.7L843.7,843.3L843.7,848.8L840.0,852.2ZM843.7,843.3L847.1,840.5L847.1,846.0L843.7,848.8ZM847.1,840.5L850.4,837.9L850.4,843.4L847.1,846.0ZM850.4,837.9L854.4,835.2L854.4,840.8L850.4,843.4ZM854.4,835.2L858.0,833.3L858.0,838.8L854.4,840.8ZM858.0,833.3L862.0,831.3L862.0,836.8L858.0,838.8ZM862.0,831.3L866.2,829.3L866.2,834.8L862.0,836.8ZM866.2,829.3L870.5,827.1L870.5,832.6L866.2,834.8ZM870.5,827.1L873.9,825.2L873.9,830.7L870.5,832.6ZM873.9,825.2L877.3,823.1L877.3,828.6L873.9,830.7ZM877.3,823.1L880.7,821.0L880.7,826.5L877.3,828.6ZM880.7,821.0L884.3,818.8L884.3,824.3L880.7,826.5ZM884.3,818.8L888.0,816.7L888.0,822.2L884.3,824.3ZM888.0,816.7L891.8,814.8L891.8,820.3L888.0,822.2ZM891.8,814.8L895.6,812.9L895.6,818.4L891.8,820.3ZM895.6,812.9L899.6,811.0L899.6,816.5L895.6,818.4ZM899.6,811.0L903.8,809.1L903.8,814.6L899.6,816.5ZM903.8,809.1L908.2,807.1L908.2,812.6L903.8,814.6ZM908.2,807.1L912.1,805.2L912.1,810.7L908.2,812.6ZM912.1,805.2L916.1,803.4L916.1,808.9L912.1,810.7ZM916.1,803.4L920.3,801.5L920.3,807.0L916.1,808.9ZM920.3,801.5L924.6,799.5L924.6,805.0L920.3,807.0ZM924.6,799.5L929.0,797.6L929.0,803.1L924.6,805.0ZM929.0,797.6L933.5,795.6L933.5,801.1L929.0,803.1ZM933.5,795.6L938.2,793.7L938.2,799.2L933.5,801.1ZM938.2,793.7L943.1,791.7L943.1,797.2L938.2,799.2ZM943.1,791.7L948.2,789.7L948.2,795.2L943.1,797.2ZM948.2,789.7L953.1,787.7L953.1,793.2L948.2,795.2ZM953.1,787.7L957.8,785.9L957.8,791.4L953.1,793.2ZM957.8,785.9L962.0,784.2L962.0,789.7L957.8,791.4ZM962.0,784.2L967.2,782.3L967.2,787.8L962.0,789.7ZM967.2,782.3L971.4,780.7L971.4,786.2L967.2,787.8ZM971.4,780.7L975.5,779.1L975.5,784.6L971.4,786.2ZM975.5,779.1L980.2,777.2L980.2,782.7L975.5,784.6ZM980.2,777.2L983.8,775.5L983.8,781.0L980.2,782.7ZM983.8,775.5L987.6,773.6L987.6,779.1L983.8,781.0ZM987.6,773.6L991.6,771.6L991.6,777.1L987.6,779.1ZM991.6,771.6L995.6,769.5L995.6,775.0L991.6,777.1ZM995.6,769.5L999.6,767.6L999.6,773.1L995.6,775.0ZM999.6,767.6L1003.6,765.8L1003.6,771.3L999.6,773.1ZM1003.6,765.8L1007.5,764.3L1007.5,769.8L1003.6,771.3ZM1007.5,764.3L1011.4,762.9L1011.4,768.4L1007.5,769.8ZM1011.4,762.9L1015.3,761.6L1015.3,767.1L1011.4,768.4ZM1015.3,761.6L1019.2,760.4L1019.2,765.9L1015.3,767.1ZM1019.2,760.4L1023.1,759.1L1023.1,764.6L1019.2,765.9ZM1023.1,759.1L1027.0,757.7L1027.0,763.2L1023.1,764.6ZM1027.0,757.7L1030.8,756.2L1030.8,761.7L1027.0,763.2ZM1030.8,756.2L1034.5,754.7L1034.5,760.2L1030.8,761.7ZM1034.5,754.7L1038.2,753.1L1038.2,758.6L1034.5,760.2ZM1038.2,753.1L1042.0,751.6L1042.0,757.1L1038.2,758.6ZM1042.0,751.6L1046.0,749.9L1046.0,755.4L1042.0,757.1ZM1046.0,749.9L1050.3,748.2L1050.3,753.7L1046.0,755.4ZM1050.3,748.2L1055.0,746.5L1055.0,752.0L1050.3,753.7ZM1055.0,746.5L1060.0,744.5L1060.0,750.0L1055.0,752.0ZM1060.0,744.5L1065.3,742.6L1065.3,748.1L1060.0,750.0ZM1065.3,742.6L1070.6,740.6L1070.6,746.1L1065.3,748.1ZM1070.6,740.6L1076.0,738.7L1076.0,744.2L1070.6,746.1ZM1076.0,738.7L1081.2,737.0L1081.2,742.5L1076.0,744.2ZM1081.2,737.0L1086.4,735.3L1086.4,740.8L1081.2,742.5ZM1086.4,735.3L1091.5,733.7L1091.5,739.2L1086.4,740.8ZM1091.5,733.7L1096.7,732.2L1096.7,737.7L1091.5,739.2ZM1096.7,732.2L1101.9,730.7L1101.9,736.2L1096.7,737.7ZM1101.9,730.7L1107.1,729.2L1107.1,734.7L1101.9,736.2ZM1107.1,729.2L1112.3,727.7L1112.3,733.2L1107.1,734.7ZM1112.3,727.7L1117.5,726.1L1117.5,731.6L1112.3,733.2ZM1117.5,726.1L1122.7,724.5L1122.7,730.0L1117.5,731.6ZM1122.7,724.5L1127.9,722.9L1127.9,728.4L1122.7,730.0ZM1127.9,722.9L1133.1,721.4L1133.1,726.9L1127.9,728.4ZM1133.1,721.4L1138.3,719.8L1138.3,725.3L1133.1,726.9ZM1138.3,719.8L1143.5,718.2L1143.5,723.7L1138.3,725.3ZM1143.5,718.2L1148.7,716.7L1148.7,722.2L1143.5,723.7ZM1148.7,716.7L1153.9,715.1L1153.9,720.6L1148.7,722.2ZM1153.9,715.1L1159.0,713.5L1159.0,719.0L1153.9,720.6ZM1159.0,713.5L1164.2,711.9L1164.2,717.4L1159.0,719.0ZM1164.2,711.9L1169.4,710.4L1169.4,715.9L1164.2,717.4ZM1169.4,710.4L1174.6,709.0L1174.6,714.5L1169.4,715.9ZM1174.6,709.0L1179.8,707.7L1179.8,713.2L1174.6,714.5ZM1179.8,707.7L1185.0,706.5L1185.0,712.0L1179.8,713.2ZM1185.0,706.5L1190.2,705.3L1190.2,710.8L1185.0,712.0ZM1190.2,705.3L1195.4,704.2L1195.4,709.7L1190.2,710.8ZM1195.4,704.2L1200.6,703.1L1200.6,708.6L1195.4,709.7ZM1200.6,703.1L1205.8,702.0L1205.8,707.5L1200.6,708.6ZM1205.8,702.0L1211.0,700.8L1211.0,706.3L1205.8,707.5ZM1211.0,700.8L1216.2,699.6L1216.2,705.1L1211.0,706.3ZM1216.2,699.6L1221.4,698.4L1221.4,703.9L1216.2,705.1ZM1221.4,698.4L1226.5,697.2L1226.5,702.7L1221.4,703.9ZM1226.5,697.2L1231.7,696.0L1231.7,701.5L1226.5,702.7ZM1231.7,696.0L1236.9,694.9L1236.9,700.4L1231.7,701.5ZM1236.9,694.9L1242.1,693.7L1242.1,699.2L1236.9,700.4ZM1242.1,693.7L1247.3,692.7L1247.3,698.2L1242.1,699.2ZM1247.3,692.7L1252.5,691.6L1252.5,697.1L1247.3,698.2ZM1252.5,691.6L1257.7,690.6L1257.7,696.1L1252.5,697.1ZM1257.7,690.6L1262.9,689.6L1262.9,695.1L1257.7,696.1ZM1262.9,689.6L1268.1,688.7L1268.1,694.2L1262.9,695.1ZM1268.1,688.7L1273.3,687.8L1273.3,693.3L1268.1,694.2ZM1273.3,687.8L1278.5,686.9L1278.5,692.4L1273.3,693.3ZM1278.5,686.9L1283.7,686.2L1283.7,691.7L1278.5,692.4ZM1283.7,686.2L1288.9,685.4L1288.9,690.9L1283.7,691.7ZM1288.9,685.4L1294.1,684.7L1294.1,690.2L1288.9,690.9ZM1294.1,684.7L1299.3,683.9L1299.3,689.4L1294.1,690.2ZM1299.3,683.9L1304.7,683.2L1304.7,688.7L1299.3,689.4ZM1304.7,683.2L1310.2,682.6L1310.2,688.1L1304.7,688.7ZM1310.2,682.6L1315.8,681.9L1315.8,687.4L1310.2,688.1ZM1315.8,681.9L1321.2,681.3L1321.2,686.8L1315.8,687.4ZM1321.2,681.3L1326.1,680.6L1326.1,686.1L1321.2,686.8ZM1326.1,680.6L1330.4,680.1L1330.4,685.6L1326.1,686.1ZM1330.4,680.1L1337.2,678.9L1337.2,684.4L1330.4,685.6ZM1337.2,678.9L1342.4,677.9L1342.4,683.4L1337.2,684.4ZM1342.4,677.9L1346.0,676.9L1346.0,682.4L1342.4,683.4ZM1343.4,679.7L1345.7,677.0L1350.9,677.0L1348.6,679.7ZM1345.7,677.0L1345.8,658.5L1351.0,658.5L1350.9,677.0ZM1345.8,658.5L1345.8,632.1L1351.0,632.1L1351.0,658.5ZM1345.8,632.1L1345.8,601.4L1351.0,601.4L1351.0,632.1ZM1345.8,601.4L1345.7,570.0L1350.9,570.0L1351.0,601.4ZM1345.7,570.0L1345.7,541.7L1350.9,541.7L1350.9,570.0ZM1345.7,541.7L1345.7,520.0L1350.9,520.0L1350.9,541.7ZM1345.7,520.0L1345.8,505.2L1351.0,505.2L1350.9,520.0ZM1345.8,505.2L1346.0,494.5L1351.2,494.5L1351.0,505.2ZM1346.0,494.5L1346.2,486.8L1351.4,486.8L1351.2,494.5ZM1346.2,486.8L1346.4,481.0L1351.6,481.0L1351.4,486.8ZM1346.4,481.0L1346.7,476.1L1351.9,476.1L1351.6,481.0ZM1346.7,476.1L1346.9,471.0L1352.1,471.0L1351.9,476.1ZM1346.9,471.0L1347.4,464.7L1352.5,464.7L1352.1,471.0ZM1347.4,464.7L1347.9,461.1L1353.1,461.1L1352.5,464.7ZM1347.9,461.1L1348.4,458.1L1353.6,458.1L1353.1,461.1ZM1348.4,458.1L1348.7,453.7L1353.9,453.7L1353.6,458.1ZM1348.7,453.7L1348.8,449.6L1354.0,449.6L1353.9,453.7ZM1348.8,449.6L1348.7,445.1L1353.9,445.1L1354.0,449.6ZM1348.7,445.1L1348.6,440.3L1353.8,440.3L1353.9,445.1ZM1348.6,440.3L1348.6,435.2L1353.8,435.2L1353.8,440.3ZM1348.6,435.2L1348.6,430.0L1353.8,430.0L1353.8,435.2ZM1348.6,430.0L1348.7,424.7L1353.9,424.7L1353.8,430.0ZM1348.7,424.7L1349.0,419.1L1354.2,419.1L1353.9,424.7ZM1349.0,419.1L1349.5,413.1L1354.7,413.1L1354.2,419.1ZM1349.5,413.1L1350.0,406.9L1355.2,406.9L1354.7,413.1ZM1350.0,406.9L1350.5,400.8L1355.7,400.8L1355.2,406.9ZM1350.5,400.8L1351.1,395.0L1356.3,395.0L1355.7,400.8ZM1351.1,395.0L1351.6,389.8L1356.8,389.8L1356.3,395.0ZM1351.6,389.8L1352.2,384.2L1357.4,384.2L1356.8,389.8ZM1352.2,384.2L1352.8,379.1L1358.0,379.1L1357.4,384.2ZM1352.8,379.1L1353.3,374.4L1358.5,374.4L1358.0,379.1ZM1353.3,374.4L1353.9,370.2L1359.1,370.2L1358.5,374.4ZM1353.9,370.2L1354.5,366.5L1359.7,366.5L1359.1,370.2ZM1354.5,366.5L1356.0,360.0L1361.1,360.0L1359.7,366.5ZM1356.0,360.0L1357.4,354.9L1362.6,354.9L1361.1,360.0ZM1357.4,354.9L1358.9,349.3L1364.1,349.3L1362.6,354.9ZM1358.9,349.3L1360.3,343.3L1365.5,343.3L1364.1,349.3ZM1360.3,343.3L1361.0,338.3L1366.2,338.3L1365.5,343.3ZM1361.0,338.3L1361.5,332.9L1366.7,332.9L1366.2,338.3ZM1361.5,332.9L1362.1,328.1L1367.3,328.1L1366.7,332.9ZM1362.1,328.1L1363.0,322.5L1368.2,322.5L1367.3,328.1ZM1363.0,322.5L1363.9,318.0L1369.1,318.0L1368.2,322.5ZM1363.9,318.0L1365.8,310.9L1371.0,310.9L1369.1,318.0ZM1365.8,310.9L1366.5,307.3L1371.7,307.3L1371.0,310.9ZM1366.5,307.3L1367.4,302.9L1372.6,302.9L1371.7,307.3ZM1367.4,302.9L1368.3,298.4L1373.5,298.4L1372.6,302.9ZM1368.3,298.4L1369.1,294.5L1374.3,294.5L1373.5,298.4ZM1369.1,294.5L1370.5,288.8L1375.7,288.8L1374.3,294.5ZM1370.5,288.8L1371.8,283.6L1377.0,283.6L1375.7,288.8ZM1371.8,283.6L1372.9,279.2L1378.1,279.2L1377.0,283.6ZM1372.9,279.2L1374.0,274.6L1379.2,274.6L1378.1,279.2ZM1374.0,274.6L1375.1,270.5L1380.3,270.5L1379.2,274.6ZM1375.1,270.5L1376.5,266.0L1381.7,266.0L1380.3,270.5ZM1376.5,266.0L1377.8,261.8L1383.0,261.8L1381.7,266.0ZM1377.8,261.8L1379.4,256.3L1384.6,256.3L1383.0,261.8ZM1379.4,256.3L1381.1,250.9L1386.3,250.9L1384.6,256.3ZM1381.1,250.9L1382.8,246.8L1387.9,246.8L1386.3,250.9ZM1382.8,246.8L1384.4,243.2L1389.6,243.2L1387.9,246.8ZM1384.4,243.2L1387.7,236.7L1392.9,236.7L1389.6,243.2ZM1387.7,236.7L1390.4,230.2L1395.6,230.2L1392.9,236.7ZM1390.4,230.2L1391.7,226.4L1396.9,226.4L1395.6,230.2ZM1391.7,226.4L1393.1,222.5L1398.3,222.5L1396.9,226.4ZM1393.1,222.5L1394.7,218.7L1399.9,218.7L1398.3,222.5ZM1394.7,218.7L1396.4,214.9L1401.6,214.9L1399.9,218.7ZM1396.4,214.9L1398.3,211.2L1403.5,211.2L1401.6,214.9ZM1398.3,211.2L1400.2,207.3L1405.4,207.3L1403.5,211.2ZM1400.2,207.3L1401.8,203.3L1407.0,203.3L1405.4,207.3ZM1401.8,203.3L1403.5,198.5L1408.7,198.5L1407.0,203.3ZM1403.5,198.5L1405.0,194.1L1410.2,194.1L1408.7,198.5ZM1405.0,194.1L1406.7,189.1L1411.9,189.1L1410.2,194.1ZM1406.7,189.1L1408.3,184.4L1413.5,184.4L1411.9,189.1ZM1408.3,184.4L1410.2,178.7L1415.4,178.7L1413.5,184.4ZM1410.2,178.7L1411.9,173.5L1417.1,173.5L1415.4,178.7ZM1411.9,173.5L1413.4,168.7L1418.6,168.7L1417.1,173.5ZM1413.4,168.7L1414.8,164.0L1420.0,164.0L1418.6,168.7ZM1414.8,164.0L1416.4,159.2L1421.6,159.2L1420.0,164.0ZM1416.4,159.2L1418.1,154.6L1423.3,154.6L1421.6,159.2ZM1418.1,154.6L1419.7,150.8L1424.9,150.8L1423.3,154.6ZM1419.7,150.8L1421.4,147.3L1426.6,147.3L1424.9,150.8ZM1421.4,147.3L1423.2,143.6L1428.4,143.6L1426.6,147.3ZM1423.2,143.6L1425.0,140.1L1430.2,140.1L1428.4,143.6ZM1425.0,140.1L1428.7,134.2L1433.9,134.2L1430.2,140.1ZM1428.7,134.2L1433.7,128.4L1438.9,128.4L1433.9,134.2ZM1436.3,125.6L1442.2,121.4L1442.2,126.9L1436.3,131.1ZM1442.2,121.4L1446.2,118.8L1446.2,124.3L1442.2,126.9ZM1446.2,118.8L1450.9,116.2L1450.9,121.7L1446.2,124.3ZM1450.9,116.2L1454.4,114.5L1454.4,120.0L1450.9,121.7ZM1454.4,114.5L1458.1,112.7L1458.1,118.2L1454.4,120.0ZM1458.1,112.7L1461.8,111.1L1461.8,116.6L1458.1,118.2ZM1461.8,111.1L1467.5,109.2L1467.5,114.7L1461.8,116.6ZM1467.5,109.2L1472.7,107.6L1472.7,113.1L1467.5,114.7ZM1472.7,107.6L1480.0,104.6L1480.0,110.1L1472.7,113.1ZM1480.0,104.6L1483.0,103.9L1483.0,109.4L1480.0,110.1ZM1483.0,103.9L1486.6,103.1L1486.6,108.6L1483.0,109.4ZM1486.6,103.1L1490.7,102.1L1490.7,107.6L1486.6,108.6ZM1490.7,102.1L1495.0,101.2L1495.0,106.7L1490.7,107.6ZM1495.0,101.2L1499.4,100.3L1499.4,105.8L1495.0,106.7ZM1499.4,100.3L1503.6,99.5L1503.6,105.0L1499.4,105.8ZM1503.6,99.5L1507.7,98.6L1507.7,104.1L1503.6,105.0ZM1507.7,98.6L1511.9,97.9L1511.9,103.4L1507.7,104.1ZM1511.9,97.9L1516.2,97.1L1516.2,102.6L1511.9,103.4ZM1516.2,97.1L1520.5,96.3L1520.5,101.8L1516.2,102.6ZM1520.5,96.3L1524.7,95.7L1524.7,101.2L1520.5,101.8ZM1524.7,95.7L1529.0,95.1L1529.0,100.6L1524.7,101.2ZM1529.0,95.1L1533.2,94.5L1533.2,100.0L1529.0,100.6ZM1533.2,94.5L1537.5,94.1L1537.5,99.6L1533.2,100.0ZM1537.5,94.1L1541.7,93.7L1541.7,99.2L1537.5,99.6ZM1541.7,93.7L1546.0,93.3L1546.0,98.8L1541.7,99.2ZM1546.0,93.3L1550.2,92.9L1550.2,98.4L1546.0,98.8ZM1550.2,92.9L1554.5,92.5L1554.5,98.0L1550.2,98.4ZM1554.5,92.5L1558.1,92.2L1558.1,97.7L1554.5,98.0ZM1558.1,92.2L1561.0,91.8L1561.0,97.3L1558.1,97.7ZM1561.0,91.8L1563.9,91.5L1563.9,97.0L1561.0,97.3ZM1563.9,91.5L1567.5,91.1L1567.5,96.6L1563.9,97.0ZM1567.5,91.1L1572.6,90.7L1572.6,96.2L1567.5,96.6ZM1572.6,90.7L1580.0,90.1L1580.0,95.6L1572.6,96.2ZM1580.0,90.1L1590.2,89.5L1590.2,95.0L1580.0,95.6ZM1590.2,89.5L1602.6,88.7L1602.6,94.2L1590.2,95.0ZM1602.6,88.7L1616.5,87.9L1616.5,93.4L1602.6,94.2ZM1616.5,87.9L1631.2,87.0L1631.2,92.5L1616.5,93.4ZM1631.2,87.0L1645.9,86.1L1645.9,91.6L1631.2,92.5ZM1645.9,86.1L1659.8,85.2L1659.8,90.7L1645.9,91.6ZM1659.8,85.2L1673.1,84.2L1673.1,89.7L1659.8,90.7ZM1673.1,84.2L1686.4,83.3L1686.4,88.8L1673.1,89.7ZM1686.4,83.3L1699.7,82.3L1699.7,87.8L1686.4,88.8ZM1699.7,82.3L1713.1,81.3L1713.1,86.8L1699.7,87.8ZM1713.1,81.3L1726.4,80.3L1726.4,85.8L1713.1,86.8ZM1726.4,80.3L1739.7,79.3L1739.7,84.8L1726.4,85.8ZM1739.7,79.3L1753.0,78.1L1753.0,83.6L1739.7,84.8ZM1753.0,78.1L1766.3,76.9L1766.3,82.4L1753.0,83.6ZM1766.3,76.9L1779.6,75.7L1779.6,81.2L1766.3,82.4ZM1779.6,75.7L1792.9,74.5L1792.9,80.0L1779.6,81.2ZM1792.9,74.5L1806.2,73.3L1806.2,78.8L1792.9,80.0ZM1806.2,73.3L1819.5,72.2L1819.5,77.8L1806.2,78.8ZM1819.5,72.2L1833.0,71.3L1833.0,76.8L1819.5,77.8ZM1833.0,71.3L1846.7,70.3L1846.7,75.8L1833.0,76.8ZM1846.7,70.3L1860.4,69.5L1860.4,75.0L1846.7,75.8ZM1860.4,69.5L1873.9,68.7L1873.9,74.2L1860.4,75.0ZM1873.9,68.7L1887.0,67.9L1887.0,73.4L1873.9,74.2ZM1887.0,67.9L1899.4,67.2L1899.4,72.8L1887.0,73.4ZM1899.4,67.2L1911.1,66.7L1911.1,72.2L1899.4,72.8ZM1911.1,66.7L1922.1,66.3L1922.1,71.8L1911.1,72.2ZM1922.1,66.3L1932.7,65.9L1932.7,71.4L1922.1,71.8ZM1932.7,65.9L1943.2,65.6L1943.2,71.1L1932.7,71.4ZM1943.2,65.6L1953.6,65.2L1953.6,70.7L1943.2,71.1ZM1953.6,65.2L1964.2,64.8L1964.2,70.3L1953.6,70.7ZM833.8,853.1L836.4,850.4L839.0,853.1L836.4,855.9ZM1343.4,679.7L1346.0,676.9L1348.6,679.7L1346.0,682.4ZM1433.7,128.4L1436.3,125.6L1438.9,128.4L1436.3,131.1Z" fill="#000" shape-rendering="crispEdges"/>
<polyline points="904.4,1117.4 904.7,1098.4 905.0,1078.4 905.3,1058.5 905.6,1039.5 905.9,1022.4 906.2,1008.3 906.5,997.5 906.8,989.4 907.1,983.2 907.5,978.2 907.9,973.7 908.4,969.0 909.2,963.5 910.1,958.9 911.0,954.9 911.9,951.1 912.7,947.2 913.3,942.1 913.7,937.1 914.1,932.3 914.9,927.6 916.2,923.0 917.7,918.6 919.5,914.4 921.4,910.2 923.4,906.1 925.7,902.1 928.0,898.4 930.2,894.9 933.3,890.7 936.4,887.1 938.9,884.0 941.9,878.5 945.4,876.1 949.9,873.4 953.6,871.2 957.7,867.8 958.0,863.5 957.9,857.9 957.7,852.2 959.7,852.2 959.7,856.8 959.7,861.5 959.7,866.1 962.4,863.9 968.2,861.0 973.6,858.7 978.4,856.6 979.6,855.9 979.6,851.0 979.6,846.2 979.6,841.3 981.6,841.3 981.6,845.8 981.6,850.2 981.6,854.7 985.7,852.2 989.1,850.9 993.6,849.3 998.5,847.5 1003.4,845.8 1007.4,844.5 1012.2,843.1 1016.0,842.1 1019.8,841.1 1019.8,837.1 1019.8,833.0 1019.8,828.9 1019.8,824.9 1019.8,820.8 1021.8,820.8 1021.8,825.8 1021.8,830.7 1021.8,835.7 1021.8,840.6 1022.2,840.5 1029.3,840.5 1029.3,835.0 1029.3,829.6 1031.3,829.6 1031.3,835.0 1031.3,840.5 1036.8,840.5 1040.9,840.5 1045.3,840.5 1045.3,835.4 1045.3,830.3 1045.3,825.2 1045.3,820.1 1045.3,815.0 1045.3,809.9 1047.3,809.9 1047.3,815.0 1047.3,820.1 1047.3,825.2 1047.3,830.3 1047.3,835.4 1047.3,840.5 1047.1,840.5 1051.4,837.6 1056.0,836.8 1060.2,836.2 1061.4,835.6 1061.4,830.6 1061.4,825.6 1061.4,820.7 1061.4,815.7 1063.4,815.7 1063.4,820.4 1063.4,825.1 1063.4,829.8 1063.4,834.5 1066.0,833.2 1069.4,831.2 1073.4,828.9 1076.9,831.6 1080.7,833.2 1086.0,831.4 1090.9,828.9 1094.3,827.8 1094.3,818.1 1094.3,808.4 1094.3,798.7 1094.3,789.1 1094.3,779.4 1094.3,769.7 1096.3,769.7 1096.3,779.3 1096.3,788.8 1096.3,798.4 1096.3,808.0 1096.3,817.5 1096.3,827.1 1099.6,826.0 1104.5,825.3 1110.0,824.5 1114.5,823.7 1118.0,823.0 1120.5,823.0 1120.5,817.9 1120.5,812.8 1122.5,812.8 1122.5,817.9 1122.5,823.0 1125.0,823.0 1131.0,822.5 1134.4,822.3 1134.4,817.8 1134.4,813.3 1134.4,808.8 1134.4,804.3 1134.4,799.8 1134.4,795.3 1136.4,795.3 1136.4,799.8 1136.4,804.3 1136.4,808.7 1136.4,813.2 1136.4,817.7 1136.4,822.2 1139.5,822.0 1143.1,821.7 1148.0,820.5 1152.1,818.2 1156.8,815.2 1161.9,813.2 1166.1,812.9 1170.7,813.4 1175.4,814.0 1180.0,814.3 1184.7,814.1 1189.5,813.6 1194.0,813.2 1197.5,812.8 1203.1,812.3 1203.1,807.4 1203.1,802.4 1203.1,797.4 1203.1,792.4 1205.1,792.4 1205.1,797.3 1205.1,802.3 1205.1,807.2 1205.1,812.2 1207.3,812.0 1210.4,811.6 1214.6,811.1 1219.5,810.4 1224.5,809.8 1229.2,809.1 1233.6,808.4 1238.0,807.6 1242.3,806.9 1246.7,806.1 1251.1,805.4 1255.5,804.8 1259.9,804.2 1264.2,803.6 1268.6,803.1 1273.0,802.5 1277.4,801.9 1281.8,801.4 1286.2,800.8 1290.5,800.2 1294.9,799.6 1299.2,798.9 1303.6,798.2 1307.9,797.5 1312.2,796.9 1316.6,796.3 1321.1,795.9 1325.8,795.6 1330.5,795.3 1334.8,795.0 1338.7,794.5 1344.1,793.1 1348.5,791.4 1351.9,790.1 1356.7,789.4 1356.7,785.1 1356.7,780.9 1356.7,776.6 1356.7,772.3 1356.7,768.1 1356.7,763.8 1358.7,763.8 1358.7,768.0 1358.7,772.2 1358.7,776.5 1358.7,780.7 1358.7,784.9 1358.7,789.1 1362.1,788.6 1365.0,788.2 1368.7,787.7 1373.1,787.1 1377.8,786.4 1382.6,785.7 1387.1,785.0 1392.3,784.2 1397.7,783.3 1402.8,782.5 1407.2,781.8 1410.3,781.3 1410.8,781.2 1410.8,776.9 1410.8,772.5 1410.8,768.2 1410.8,763.8 1412.8,763.8 1412.8,768.1 1412.8,772.3 1412.8,776.6 1412.8,780.8 1417.6,779.9 1421.3,778.6 1425.4,777.0 1425.4,771.4 1425.4,765.8 1425.4,760.2 1425.4,754.6 1425.4,749.0 1425.4,743.4 1427.4,743.4 1427.4,748.9 1427.4,754.3 1427.4,759.8 1427.4,765.3 1427.4,770.7 1427.4,776.2 1429.3,775.5 1433.2,774.7 1438.6,773.7 1444.1,772.5 1448.3,771.1 1452.0,767.6 1454.1,763.8 1458.7,764.9 1463.4,766.2 1468.0,767.1 1472.6,767.5 1477.2,766.9 1481.9,765.6 1486.4,764.1 1490.2,763.1 1493.7,763.0 1500.0,762.4 1505.4,761.4 1512.6,760.1 1520.7,758.5 1528.7,757.0 1535.5,755.6 1540.3,754.7 1541.0,754.4 1541.0,749.4 1541.0,744.5 1541.0,739.5 1541.0,734.6 1543.0,734.6 1543.0,739.3 1543.0,744.0 1543.0,748.7 1543.0,753.4 1547.0,751.4 1552.0,750.4 1558.8,749.2 1566.6,747.8 1575.0,746.3 1583.1,744.7 1590.5,743.0 1597.4,741.2 1604.4,739.2 1611.2,737.1 1617.6,735.0 1623.4,733.1 1628.3,731.3 1633.7,729.1 1637.4,727.1 1640.4,725.3 1643.7,723.3 1647.4,721.2 1651.1,719.0 1654.8,716.7 1658.6,714.2 1661.8,712.0 1665.1,709.7 1668.5,707.4 1671.9,705.0 1675.2,702.6 1678.5,700.3 1681.8,698.0 1685.1,695.8 1688.4,693.4 1691.7,691.0 1695.0,688.5 1698.3,685.8 1701.7,683.2 1705.0,680.5 1708.3,677.8 1711.6,675.1 1714.9,672.4 1718.3,669.8 1721.6,667.1 1724.9,664.6 1728.2,662.2 1731.5,659.8 1734.8,657.4 1738.1,655.2 1741.4,653.0 1745.7,650.3 1750.1,647.6 1754.3,645.1 1758.0,643.0 1763.0,640.5 1767.9,638.1 1771.4,636.0 1775.4,633.6 1779.6,631.1 1783.9,628.6 1787.4,626.7 1791.0,624.8 1794.7,622.9 1798.5,621.0 1802.2,619.2 1806.0,617.4 1809.9,615.5 1813.7,613.8 1817.5,612.3 1821.1,611.1 1825.4,610.2 1829.5,609.9 1833.4,609.8 1837.2,609.8 1841.8,609.7 1846.1,610.0 1850.7,611.1 1854.5,613.0 1858.6,615.5 1862.7,618.2 1866.8,620.6 1870.6,622.6 1874.2,624.5 1878.1,626.1 1882.9,627.3 1886.9,627.9 1891.6,628.2 1896.5,628.4 1901.4,628.6 1906.0,628.6 1909.8,628.6 1915.2,628.5 1919.2,628.1 1923.3,627.3 1928.2,626.1 1933.3,624.6 1938.6,622.7 1942.9,620.9 1947.6,618.8 1951.9,616.8 1955.6,615.2 1960.2,613.6 1963.6,612.5" fill="none" stroke="#008000" stroke-width="4.0" stroke-linejoin="round" stroke-linecap="butt" shape-rendering="crispEdges"/><path d="M902.8,1117.4L903.0,1098.4L906.3,1098.4L906.0,1117.4ZM903.0,1098.4L903.3,1078.4L906.6,1078.4L906.3,1098.4ZM903.3,1078.4L903.6,1058.5L906.9,1058.5L906.6,1078.4ZM903.6,1058.5L903.9,1039.5L907.2,1039.5L906.9,1058.5ZM903.9,1039.5L904.2,1022.4L907.5,1022.4L907.2,1039.5ZM904.2,1022.4L904.5,1008.3L907.8,1008.3L907.5,1022.4ZM904.5,1008.3L904.9,997.5L908.2,997.5L907.8,1008.3ZM904.9,997.5L905.2,989.4L908.5,989.4L908.2,997.5ZM905.2,989.4L905.5,983.2L908.8,983.2L908.5,989.4ZM905.5,983.2L905.8,978.2L909.1,978.2L908.8,983.2ZM905.8,978.2L906.3,973.7L909.6,973.7L909.1,978.2ZM906.3,973.7L906.8,969.0L910.1,969.0L909.6,973.7ZM906.8,969.0L907.5,963.5L910.8,963.5L910.1,969.0ZM907.5,963.5L908.4,958.9L911.7,958.9L910.8,963.5ZM908.4,958.9L909.4,954.9L912.7,954.9L911.7,958.9ZM909.4,954.9L910.3,951.1L913.6,951.1L912.7,954.9ZM910.3,951.1L911.0,947.2L914.3,947.2L913.6,951.1ZM911.0,947.2L911.6,942.1L914.9,942.1L914.3,947.2ZM911.6,942.1L912.0,937.1L915.3,937.1L914.9,942.1ZM912.0,937.1L912.4,932.3L915.7,932.3L915.3,937.1ZM912.4,932.3L913.3,927.6L916.6,927.6L915.7,932.3ZM913.3,927.6L914.5,923.0L917.8,923.0L916.6,927.6ZM914.5,923.0L916.1,918.6L919.4,918.6L917.8,923.0ZM916.1,918.6L917.9,914.4L921.2,914.4L919.4,918.6ZM917.9,914.4L919.8,910.2L923.0,910.2L921.2,914.4ZM919.8,910.2L921.8,906.1L925.1,906.1L923.0,910.2ZM921.8,906.1L924.0,902.1L927.3,902.1L925.1,906.1ZM924.0,902.1L926.3,898.4L929.6,898.4L927.3,902.1ZM926.3,898.4L928.5,894.9L931.8,894.9L929.6,898.4ZM928.5,894.9L931.7,890.7L935.0,890.7L931.8,894.9ZM931.7,890.7L934.8,887.1L938.1,887.1L935.0,890.7ZM934.8,887.1L937.3,884.0L940.6,884.0L938.1,887.1ZM937.3,884.0L940.3,878.5L943.6,878.5L940.6,884.0ZM941.9,876.5L945.4,874.0L945.4,878.1L941.9,880.5ZM945.4,874.0L949.9,871.4L949.9,875.5L945.4,878.1ZM949.9,871.4L953.6,869.1L953.6,873.2L949.9,875.5ZM953.6,869.1L957.7,865.7L957.7,869.8L953.6,873.2ZM956.1,867.8L956.4,863.5L959.7,863.5L959.4,867.8ZM956.4,863.5L956.2,857.9L959.5,857.9L959.7,863.5ZM956.2,857.9L956.1,852.2L959.4,852.2L959.5,857.9ZM957.7,850.2L959.7,850.2L959.7,854.3L957.7,854.3ZM961.4,852.2L961.4,856.8L958.1,856.8L958.1,852.2ZM961.4,856.8L961.4,861.5L958.1,861.5L958.1,856.8ZM961.4,861.5L961.4,866.1L958.1,866.1L958.1,861.5ZM959.7,864.1L962.4,861.9L962.4,866.0L959.7,868.2ZM962.4,861.9L968.2,859.0L968.2,863.0L962.4,866.0ZM968.2,859.0L973.6,856.6L973.6,860.7L968.2,863.0ZM973.6,856.6L978.4,854.6L978.4,858.6L973.6,860.7ZM978.4,854.6L979.6,853.8L979.6,857.9L978.4,858.6ZM977.9,855.9L978.0,851.0L981.2,851.0L981.2,855.9ZM978.0,851.0L978.0,846.2L981.2,846.2L981.2,851.0ZM978.0,846.2L977.9,841.3L981.2,841.3L981.2,846.2ZM979.6,839.3L981.6,839.2L981.6,843.3L979.6,843.4ZM983.2,841.3L983.2,845.8L980.0,845.8L979.9,841.3ZM983.2,845.8L983.2,850.2L980.0,850.2L980.0,845.8ZM983.2,850.2L983.2,854.7L979.9,854.7L980.0,850.2ZM981.6,852.6L985.7,850.1L985.7,854.2L981.6,856.7ZM985.7,850.1L989.1,848.9L989.1,853.0L985.7,854.2ZM989.1,848.9L993.6,847.2L993.6,851.3L989.1,853.0ZM993.6,847.2L998.5,845.5L998.5,849.6L993.6,851.3ZM998.5,845.5L1003.4,843.8L1003.4,847.9L998.5,849.6ZM1003.4,843.8L1007.4,842.5L1007.4,846.6L1003.4,847.9ZM1007.4,842.5L1012.2,841.0L1012.2,845.1L1007.4,846.6ZM1012.2,841.0L1016.0,840.1L1016.0,844.2L1012.2,845.1ZM1016.0,840.1L1019.8,839.1L1019.8,843.2L1016.0,844.2ZM1018.1,841.1L1018.1,837.1L1021.4,837.1L1021.4,841.1ZM1018.1,837.1L1018.1,833.0L1021.4,833.0L1021.4,837.1ZM1018.1,833.0L1018.1,828.9L1021.4,828.9L1021.4,833.0ZM1018.1,828.9L1018.1,824.9L1021.4,824.9L1021.4,828.9ZM1018.1,824.9L1018.1,820.8L1021.4,820.8L1021.4,824.9ZM1019.8,818.8L1021.8,818.7L1021.8,822.8L1019.8,822.8ZM1023.4,820.8L1023.4,825.8L1020.1,825.8L1020.1,820.8ZM1023.4,825.8L1023.4,830.7L1020.1,830.7L1020.1,825.8ZM1023.4,830.7L1023.4,835.7L1020.1,835.7L1020.1,830.7ZM1023.4,835.7L1023.4,840.6L1020.1,840.6L1020.1,835.7ZM1021.8,838.6L1022.2,838.4L1022.2,842.5L1021.8,842.7ZM1022.2,838.4L1029.3,838.5L1029.3,842.5L1022.2,842.5ZM1027.7,840.5L1027.6,835.0L1031.0,835.0L1031.0,840.5ZM1027.6,835.0L1027.6,829.6L1030.9,829.6L1031.0,835.0ZM1029.3,827.6L1031.3,827.5L1031.3,831.6L1029.3,831.6ZM1032.9,829.6L1033.0,835.0L1029.6,835.0L1029.6,829.6ZM1033.0,835.0L1032.9,840.5L1029.6,840.5L1029.6,835.0ZM1031.3,838.5L1036.8,838.5L1036.8,842.5L1031.3,842.5ZM1036.8,838.5L1040.9,838.5L1040.9,842.5L1036.8,842.5ZM1040.9,838.5L1045.3,838.5L1045.3,842.5L1040.9,842.5ZM1043.6,840.5L1043.6,835.4L1047.0,835.4L1046.9,840.5ZM1043.6,835.4L1043.6,830.3L1047.0,830.3L1047.0,835.4ZM1043.6,830.3L1043.6,825.2L1047.0,825.2L1047.0,830.3ZM1043.6,825.2L1043.6,820.1L1047.0,820.1L1047.0,825.2ZM1043.6,820.1L1043.6,815.0L1047.0,815.0L1047.0,820.1ZM1043.6,815.0L1043.6,809.9L1046.9,809.9L1047.0,815.0ZM1045.3,807.9L1047.3,807.9L1047.3,812.0L1045.3,811.9ZM1048.9,809.9L1049.0,815.0L1045.6,815.0L1045.6,809.9ZM1049.0,815.0L1049.0,820.1L1045.6,820.1L1045.6,815.0ZM1049.0,820.1L1049.0,825.2L1045.6,825.2L1045.6,820.1ZM1049.0,825.2L1049.0,830.3L1045.6,830.3L1045.6,825.2ZM1049.0,830.3L1049.0,835.4L1045.6,835.4L1045.6,830.3ZM1049.0,835.4L1048.9,840.5L1045.6,840.5L1045.6,835.4ZM1047.3,842.5L1047.1,842.5L1047.1,838.5L1047.3,838.5ZM1047.1,838.5L1051.4,835.6L1051.4,839.6L1047.1,842.5ZM1051.4,835.6L1056.0,834.7L1056.0,838.8L1051.4,839.6ZM1056.0,834.7L1060.2,834.2L1060.2,838.2L1056.0,838.8ZM1060.2,834.2L1061.4,833.5L1061.4,837.6L1060.2,838.2ZM1059.8,835.6L1059.8,830.6L1063.1,830.6L1063.1,835.6ZM1059.8,830.6L1059.8,825.6L1063.1,825.6L1063.1,830.6ZM1059.8,825.6L1059.8,820.7L1063.1,820.7L1063.1,825.6ZM1059.8,820.7L1059.8,815.7L1063.1,815.7L1063.1,820.7ZM1061.4,813.7L1063.4,813.7L1063.4,817.8L1061.4,817.8ZM1065.1,815.7L1065.1,820.4L1061.8,820.4L1061.8,815.7ZM1065.1,820.4L1065.1,825.1L1061.8,825.1L1061.8,820.4ZM1065.1,825.1L1065.1,829.8L1061.8,829.8L1061.8,825.1ZM1065.1,829.8L1065.1,834.5L1061.8,834.5L1061.8,829.8ZM1063.4,832.5L1066.0,831.2L1066.0,835.2L1063.4,836.6ZM1066.0,831.2L1069.4,829.2L1069.4,833.3L1066.0,835.2ZM1069.4,829.2L1073.4,826.9L1073.4,831.0L1069.4,833.3ZM1073.4,826.9L1076.9,829.5L1076.9,833.6L1073.4,831.0ZM1076.9,829.5L1080.7,831.1L1080.7,835.2L1076.9,833.6ZM1080.7,831.1L1086.0,829.3L1086.0,833.4L1080.7,835.2ZM1086.0,829.3L1090.9,826.9L1090.9,831.0L1086.0,833.4ZM1090.9,826.9L1094.3,825.7L1094.3,829.8L1090.9,831.0ZM1092.7,827.8L1092.6,818.1L1096.0,818.1L1096.0,827.8ZM1092.6,818.1L1092.6,808.4L1096.0,808.4L1096.0,818.1ZM1092.6,808.4L1092.6,798.7L1096.0,798.7L1096.0,808.4ZM1092.6,798.7L1092.6,789.1L1096.0,789.1L1096.0,798.7ZM1092.6,789.1L1092.6,779.4L1096.0,779.4L1096.0,789.1ZM1092.6,779.4L1092.6,769.7L1095.9,769.7L1096.0,779.4ZM1094.3,767.7L1096.3,767.7L1096.3,771.8L1094.3,771.8ZM1097.9,769.7L1098.0,779.3L1094.6,779.3L1094.6,769.7ZM1098.0,779.3L1098.0,788.8L1094.6,788.8L1094.6,779.3ZM1098.0,788.8L1098.0,798.4L1094.6,798.4L1094.6,788.8ZM1098.0,798.4L1098.0,808.0L1094.6,808.0L1094.6,798.4ZM1098.0,808.0L1098.0,817.5L1094.6,817.5L1094.6,808.0ZM1098.0,817.5L1097.9,827.1L1094.6,827.1L1094.6,817.5ZM1096.3,825.1L1099.6,824.0L1099.6,828.1L1096.3,829.2ZM1099.6,824.0L1104.5,823.2L1104.5,827.3L1099.6,828.1ZM1104.5,823.2L1110.0,822.5L1110.0,826.5L1104.5,827.3ZM1110.0,822.5L1114.5,821.6L1114.5,825.7L1110.0,826.5ZM1114.5,821.6L1118.0,821.0L1118.0,825.0L1114.5,825.7ZM1118.0,821.0L1120.5,821.0L1120.5,825.0L1118.0,825.0ZM1118.8,823.0L1118.8,817.9L1122.2,817.9L1122.2,823.0ZM1118.8,817.9L1118.8,812.8L1122.2,812.8L1122.2,817.9ZM1120.5,810.8L1122.5,810.7L1122.5,814.8L1120.5,814.9ZM1124.2,812.8L1124.2,817.9L1120.8,817.9L1120.8,812.8ZM1124.2,817.9L1124.2,823.0L1120.8,823.0L1120.8,817.9ZM1122.5,820.9L1125.0,821.0L1125.0,825.0L1122.5,825.0ZM1125.0,821.0L1131.0,820.5L1131.0,824.5L1125.0,825.0ZM1131.0,820.5L1134.4,820.3L1134.4,824.4L1131.0,824.5ZM1132.8,822.3L1132.8,817.8L1136.1,817.8L1136.1,822.3ZM1132.8,817.8L1132.8,813.3L1136.1,813.3L1136.1,817.8ZM1132.8,813.3L1132.8,808.8L1136.1,808.8L1136.1,813.3ZM1132.8,808.8L1132.8,804.3L1136.1,804.3L1136.1,808.8ZM1132.8,804.3L1132.8,799.8L1136.1,799.8L1136.1,804.3ZM1132.8,799.8L1132.8,795.3L1136.1,795.3L1136.1,799.8ZM1134.4,793.2L1136.4,793.2L1136.4,797.3L1134.4,797.3ZM1138.1,795.3L1138.1,799.8L1134.8,799.8L1134.8,795.3ZM1138.1,799.8L1138.1,804.3L1134.8,804.3L1134.8,799.8ZM1138.1,804.3L1138.1,808.7L1134.8,808.7L1134.8,804.3ZM1138.1,808.7L1138.1,813.2L1134.8,813.2L1134.8,808.7ZM1138.1,813.2L1138.1,817.7L1134.8,817.7L1134.8,813.2ZM1138.1,817.7L1138.1,822.2L1134.8,822.2L1134.8,817.7ZM1136.4,820.1L1139.5,820.0L1139.5,824.1L1136.4,824.2ZM1139.5,820.0L1143.1,819.6L1143.1,823.7L1139.5,824.1ZM1143.1,819.6L1148.0,818.5L1148.0,822.5L1143.1,823.7ZM1148.0,818.5L1152.1,816.1L1152.1,820.2L1148.0,822.5ZM1152.1,816.1L1156.8,813.2L1156.8,817.3L1152.1,820.2ZM1156.8,813.2L1161.9,811.1L1161.9,815.2L1156.8,817.3ZM1161.9,811.1L1166.1,810.9L1166.1,815.0L1161.9,815.2ZM1166.1,810.9L1170.7,811.3L1170.7,815.4L1166.1,815.0ZM1170.7,811.3L1175.4,812.0L1175.4,816.1L1170.7,815.4ZM1175.4,812.0L1180.0,812.3L1180.0,816.4L1175.4,816.1ZM1180.0,812.3L1184.7,812.0L1184.7,816.1L1180.0,816.4ZM1184.7,812.0L1189.5,811.6L1189.5,815.7L1184.7,816.1ZM1189.5,811.6L1194.0,811.1L1194.0,815.2L1189.5,815.7ZM1194.0,811.1L1197.5,810.7L1197.5,814.8L1194.0,815.2ZM1197.5,810.7L1203.1,810.3L1203.1,814.4L1197.5,814.8ZM1201.4,812.3L1201.4,807.4L1204.8,807.4L1204.8,812.3ZM1201.4,807.4L1201.4,802.4L1204.8,802.4L1204.8,807.4ZM1201.4,802.4L1201.4,797.4L1204.7,797.4L1204.8,802.4ZM1201.4,797.4L1201.4,792.4L1204.7,792.4L1204.7,797.4ZM1203.1,790.4L1205.1,790.4L1205.1,794.5L1203.1,794.5ZM1206.7,792.4L1206.8,797.3L1203.4,797.3L1203.4,792.4ZM1206.8,797.3L1206.8,802.3L1203.4,802.3L1203.4,797.3ZM1206.8,802.3L1206.7,807.2L1203.4,807.2L1203.4,802.3ZM1206.7,807.2L1206.7,812.2L1203.4,812.2L1203.4,807.2ZM1205.1,810.1L1207.3,810.0L1207.3,814.0L1205.1,814.2ZM1207.3,810.0L1210.4,809.6L1210.4,813.7L1207.3,814.0ZM1210.4,809.6L1214.6,809.0L1214.6,813.1L1210.4,813.7ZM1214.6,809.0L1219.5,808.4L1219.5,812.5L1214.6,813.1ZM1219.5,808.4L1224.5,807.7L1224.5,811.8L1219.5,812.5ZM1224.5,807.7L1229.2,807.0L1229.2,811.1L1224.5,811.8ZM1229.2,807.0L1233.6,806.3L1233.6,810.4L1229.2,811.1ZM1233.6,806.3L1238.0,805.6L1238.0,809.7L1233.6,810.4ZM1238.0,805.6L1242.3,804.8L1242.3,808.9L1238.0,809.7ZM1242.3,804.8L1246.7,804.1L1246.7,808.2L1242.3,808.9ZM1246.7,804.1L1251.1,803.4L1251.1,807.5L1246.7,808.2ZM1251.1,803.4L1255.5,802.7L1255.5,806.8L1251.1,807.5ZM1255.5,802.7L1259.9,802.1L1259.9,806.2L1255.5,806.8ZM1259.9,802.1L1264.2,801.6L1264.2,805.7L1259.9,806.2ZM1264.2,801.6L1268.6,801.0L1268.6,805.1L1264.2,805.7ZM1268.6,801.0L1273.0,800.4L1273.0,804.5L1268.6,805.1ZM1273.0,800.4L1277.4,799.9L1277.4,804.0L1273.0,804.5ZM1277.4,799.9L1281.8,799.3L1281.8,803.4L1277.4,804.0ZM1281.8,799.3L1286.2,798.7L1286.2,802.8L1281.8,803.4ZM1286.2,798.7L1290.5,798.2L1290.5,802.3L1286.2,802.8ZM1290.5,798.2L1294.9,797.6L1294.9,801.6L1290.5,802.3ZM1294.9,797.6L1299.2,796.9L1299.2,801.0L1294.9,801.6ZM1299.2,796.9L1303.6,796.2L1303.6,800.3L1299.2,801.0ZM1303.6,796.2L1307.9,795.5L1307.9,799.6L1303.6,800.3ZM1307.9,795.5L1312.2,794.8L1312.2,798.9L1307.9,799.6ZM1312.2,794.8L1316.6,794.3L1316.6,798.4L1312.2,798.9ZM1316.6,794.3L1321.1,793.8L1321.1,797.9L1316.6,798.4ZM1321.1,793.8L1325.8,793.5L1325.8,797.6L1321.1,797.9ZM1325.8,793.5L1330.5,793.3L1330.5,797.4L1325.8,797.6ZM1330.5,793.3L1334.8,793.0L1334.8,797.1L1330.5,797.4ZM1334.8,793.0L1338.7,792.4L1338.7,796.5L1334.8,797.1ZM1338.7,792.4L1344.1,791.0L1344.1,795.1L1338.7,796.5ZM1344.1,791.0L1348.5,789.3L1348.5,793.4L1344.1,795.1ZM1348.5,789.3L1351.9,788.0L1351.9,792.1L1348.5,793.4ZM1351.9,788.0L1356.7,787.3L1356.7,791.4L1351.9,792.1ZM1355.0,789.4L1355.0,785.1L1358.4,785.1L1358.4,789.4ZM1355.0,785.1L1355.0,780.9L1358.4,780.9L1358.4,785.1ZM1355.0,780.9L1355.0,776.6L1358.4,776.6L1358.4,780.9ZM1355.0,776.6L1355.0,772.3L1358.4,772.3L1358.4,776.6ZM1355.0,772.3L1355.0,768.1L1358.4,768.1L1358.4,772.3ZM1355.0,768.1L1355.1,763.8L1358.4,763.8L1358.4,768.1ZM1356.7,761.8L1358.7,761.7L1358.7,765.8L1356.7,765.8ZM1360.4,763.8L1360.4,768.0L1357.0,768.0L1357.1,763.8ZM1360.4,768.0L1360.4,772.2L1357.0,772.2L1357.0,768.0ZM1360.4,772.2L1360.4,776.5L1357.0,776.5L1357.0,772.2ZM1360.4,776.5L1360.4,780.7L1357.0,780.7L1357.0,776.5ZM1360.4,780.7L1360.4,784.9L1357.0,784.9L1357.0,780.7ZM1360.4,784.9L1360.4,789.1L1357.1,789.1L1357.0,784.9ZM1358.7,787.0L1362.1,786.6L1362.1,790.6L1358.7,791.1ZM1362.1,786.6L1365.0,786.1L1365.0,790.2L1362.1,790.6ZM1365.0,786.1L1368.7,785.6L1368.7,789.7L1365.0,790.2ZM1368.7,785.6L1373.1,785.0L1373.1,789.1L1368.7,789.7ZM1373.1,785.0L1377.8,784.4L1377.8,788.5L1373.1,789.1ZM1377.8,784.4L1382.6,783.7L1382.6,787.8L1377.8,788.5ZM1382.6,783.7L1387.1,783.0L1387.1,787.1L1382.6,787.8ZM1387.1,783.0L1392.3,782.1L1392.3,786.2L1387.1,787.1ZM1392.3,782.1L1397.7,781.3L1397.7,785.4L1392.3,786.2ZM1397.7,781.3L1402.8,780.5L1402.8,784.6L1397.7,785.4ZM1402.8,780.5L1407.2,779.8L1407.2,783.9L1402.8,784.6ZM1407.2,779.8L1410.3,779.3L1410.3,783.4L1407.2,783.9ZM1410.3,779.3L1410.8,779.2L1410.8,783.3L1410.3,783.4ZM1409.1,781.2L1409.1,776.9L1412.5,776.9L1412.4,781.2ZM1409.1,776.9L1409.1,772.5L1412.5,772.5L1412.5,776.9ZM1409.1,772.5L1409.1,768.2L1412.5,768.2L1412.5,772.5ZM1409.1,768.2L1409.2,763.8L1412.5,763.8L1412.5,768.2ZM1410.8,761.8L1412.8,761.7L1412.8,765.8L1410.8,765.9ZM1414.5,763.8L1414.5,768.1L1411.1,768.1L1411.2,763.8ZM1414.5,768.1L1414.5,772.3L1411.1,772.3L1411.1,768.1ZM1414.5,772.3L1414.5,776.6L1411.1,776.6L1411.1,772.3ZM1414.5,776.6L1414.5,780.8L1411.2,780.8L1411.1,776.6ZM1412.8,778.8L1417.6,777.9L1417.6,782.0L1412.8,782.9ZM1417.6,777.9L1421.3,776.5L1421.3,780.6L1417.6,782.0ZM1421.3,776.5L1425.4,774.9L1425.4,779.0L1421.3,780.6ZM1423.7,777.0L1423.8,771.4L1427.1,771.4L1427.0,777.0ZM1423.8,771.4L1423.8,765.8L1427.1,765.8L1427.1,771.4ZM1423.8,765.8L1423.8,760.2L1427.1,760.2L1427.1,765.8ZM1423.8,760.2L1423.8,754.6L1427.1,754.6L1427.1,760.2ZM1423.8,754.6L1423.8,749.0L1427.1,749.0L1427.1,754.6ZM1423.8,749.0L1423.8,743.4L1427.1,743.4L1427.1,749.0ZM1425.4,741.4L1427.4,741.4L1427.4,745.5L1425.4,745.5ZM1429.1,743.4L1429.1,748.9L1425.8,748.9L1425.8,743.4ZM1429.1,748.9L1429.1,754.3L1425.8,754.3L1425.8,748.9ZM1429.1,754.3L1429.1,759.8L1425.8,759.8L1425.8,754.3ZM1429.1,759.8L1429.1,765.3L1425.8,765.3L1425.8,759.8ZM1429.1,765.3L1429.1,770.7L1425.8,770.7L1425.8,765.3ZM1429.1,770.7L1429.1,776.2L1425.8,776.2L1425.8,770.7ZM1427.4,774.2L1429.3,773.5L1429.3,777.5L1427.4,778.3ZM1429.3,773.5L1433.2,772.7L1433.2,776.8L1429.3,777.5ZM1433.2,772.7L1438.6,771.7L1438.6,775.8L1433.2,776.8ZM1438.6,771.7L1444.1,770.4L1444.1,774.5L1438.6,775.8ZM1444.1,770.4L1448.3,769.1L1448.3,773.1L1444.1,774.5ZM1448.3,769.1L1452.0,765.6L1452.0,769.7L1448.3,773.1ZM1450.4,767.6L1452.4,763.8L1455.8,763.8L1453.7,767.6ZM1454.1,761.8L1458.7,762.9L1458.7,767.0L1454.1,765.9ZM1458.7,762.9L1463.4,764.1L1463.4,768.2L1458.7,767.0ZM1463.4,764.1L1468.0,765.1L1468.0,769.2L1463.4,768.2ZM1468.0,765.1L1472.6,765.4L1472.6,769.5L1468.0,769.2ZM1472.6,765.4L1477.2,764.8L1477.2,768.9L1472.6,769.5ZM1477.2,764.8L1481.9,763.5L1481.9,767.6L1477.2,768.9ZM1481.9,763.5L1486.4,762.1L1486.4,766.2L1481.9,767.6ZM1486.4,762.1L1490.2,761.0L1490.2,765.1L1486.4,766.2ZM1490.2,761.0L1493.7,760.9L1493.7,765.0L1490.2,765.1ZM1493.7,760.9L1500.0,760.4L1500.0,764.5L1493.7,765.0ZM1500.0,760.4L1505.4,759.4L1505.4,763.5L1500.0,764.5ZM1505.4,759.4L1512.6,758.0L1512.6,762.1L1505.4,763.5ZM1512.6,758.0L1520.7,756.5L1520.7,760.6L1512.6,762.1ZM1520.7,756.5L1528.7,754.9L1528.7,759.0L1520.7,760.6ZM1528.7,754.9L1535.5,753.6L1535.5,757.7L1528.7,759.0ZM1535.5,753.6L1540.3,752.6L1540.3,756.7L1535.5,757.7ZM1540.3,752.6L1541.0,752.3L1541.0,756.4L1540.3,756.7ZM1539.3,754.4L1539.3,749.4L1542.7,749.4L1542.6,754.4ZM1539.3,749.4L1539.3,744.5L1542.7,744.5L1542.7,749.4ZM1539.3,744.5L1539.3,739.5L1542.7,739.5L1542.7,744.5ZM1539.3,739.5L1539.3,734.6L1542.7,734.6L1542.7,739.5ZM1541.0,732.6L1543.0,732.5L1543.0,736.6L1541.0,736.7ZM1544.7,734.6L1544.7,739.3L1541.3,739.3L1541.3,734.6ZM1544.7,739.3L1544.7,744.0L1541.3,744.0L1541.3,739.3ZM1544.7,744.0L1544.7,748.7L1541.3,748.7L1541.3,744.0ZM1544.7,748.7L1544.7,753.4L1541.3,753.4L1541.3,748.7ZM1543.0,751.3L1547.0,749.4L1547.0,753.5L1543.0,755.4ZM1547.0,749.4L1552.0,748.4L1552.0,752.5L1547.0,753.5ZM1552.0,748.4L1558.8,747.1L1558.8,751.2L1552.0,752.5ZM1558.8,747.1L1566.6,745.8L1566.6,749.9L1558.8,751.2ZM1566.6,745.8L1575.0,744.2L1575.0,748.3L1566.6,749.9ZM1575.0,744.2L1583.1,742.6L1583.1,746.7L1575.0,748.3ZM1583.1,742.6L1590.5,740.9L1590.5,745.0L1583.1,746.7ZM1590.5,740.9L1597.4,739.1L1597.4,743.2L1590.5,745.0ZM1597.4,739.1L1604.4,737.2L1604.4,741.3L1597.4,743.2ZM1604.4,737.2L1611.2,735.1L1611.2,739.2L1604.4,741.3ZM1611.2,735.1L1617.6,733.0L1617.6,737.1L1611.2,739.2ZM1617.6,733.0L1623.4,731.0L1623.4,735.1L1617.6,737.1ZM1623.4,731.0L1628.3,729.3L1628.3,733.4L1623.4,735.1ZM1628.3,729.3L1633.7,727.0L1633.7,731.1L1628.3,733.4ZM1633.7,727.0L1637.4,725.1L1637.4,729.2L1633.7,731.1ZM1637.4,725.1L1640.4,723.2L1640.4,727.3L1637.4,729.2ZM1640.4,723.2L1643.7,721.2L1643.7,725.3L1640.4,727.3ZM1643.7,721.2L1647.4,719.1L1647.4,723.2L1643.7,725.3ZM1647.4,719.1L1651.1,716.9L1651.1,721.0L1647.4,723.2ZM1651.1,716.9L1654.8,714.6L1654.8,718.7L1651.1,721.0ZM1654.8,714.6L1658.6,712.1L1658.6,716.2L1654.8,718.7ZM1658.6,712.1L1661.8,710.0L1661.8,714.1L1658.6,716.2ZM1661.8,710.0L1665.1,707.7L1665.1,711.8L1661.8,714.1ZM1665.1,707.7L1668.5,705.3L1668.5,709.4L1665.1,711.8ZM1668.5,705.3L1671.9,702.9L1671.9,707.0L1668.5,709.4ZM1671.9,702.9L1675.2,700.6L1675.2,704.7L1671.9,707.0ZM1675.2,700.6L1678.5,698.3L1678.5,702.4L1675.2,704.7ZM1678.5,698.3L1681.8,696.0L1681.8,700.1L1678.5,702.4ZM1681.8,696.0L1685.1,693.7L1685.1,697.8L1681.8,700.1ZM1685.1,693.7L1688.4,691.4L1688.4,695.5L1685.1,697.8ZM1688.4,691.4L1691.7,689.0L1691.7,693.1L1688.4,695.5ZM1691.7,689.0L1695.0,686.4L1695.0,690.5L1691.7,693.1ZM1695.0,686.4L1698.3,683.8L1698.3,687.9L1695.0,690.5ZM1698.3,683.8L1701.7,681.1L1701.7,685.2L1698.3,687.9ZM1701.7,681.1L1705.0,678.4L1705.0,682.5L1701.7,685.2ZM1705.0,678.4L1708.3,675.8L1708.3,679.8L1705.0,682.5ZM1708.3,675.8L1711.6,673.1L1711.6,677.2L1708.3,679.8ZM1711.6,673.1L1714.9,670.4L1714.9,674.5L1711.6,677.2ZM1714.9,670.4L1718.3,667.7L1718.3,671.8L1714.9,674.5ZM1718.3,667.7L1721.6,665.1L1721.6,669.2L1718.3,671.8ZM1721.6,665.1L1724.9,662.5L1724.9,666.6L1721.6,669.2ZM1724.9,662.5L1728.2,660.1L1728.2,664.2L1724.9,666.6ZM1728.2,660.1L1731.5,657.7L1731.5,661.8L1728.2,664.2ZM1731.5,657.7L1734.8,655.4L1734.8,659.5L1731.5,661.8ZM1734.8,655.4L1738.1,653.1L1738.1,657.2L1734.8,659.5ZM1738.1,653.1L1741.4,651.0L1741.4,655.1L1738.1,657.2ZM1741.4,651.0L1745.7,648.2L1745.7,652.3L1741.4,655.1ZM1745.7,648.2L1750.1,645.5L1750.1,649.6L1745.7,652.3ZM1750.1,645.5L1754.3,643.1L1754.3,647.2L1750.1,649.6ZM1754.3,643.1L1758.0,641.0L1758.0,645.0L1754.3,647.2ZM1758.0,641.0L1763.0,638.5L1763.0,642.6L1758.0,645.0ZM1763.0,638.5L1767.9,636.0L1767.9,640.1L1763.0,642.6ZM1767.9,636.0L1771.4,634.0L1771.4,638.1L1767.9,640.1ZM1771.4,634.0L1775.4,631.6L1775.4,635.7L1771.4,638.1ZM1775.4,631.6L1779.6,629.0L1779.6,633.1L1775.4,635.7ZM1779.6,629.0L1783.9,626.6L1783.9,630.7L1779.6,633.1ZM1783.9,626.6L1787.4,624.6L1787.4,628.7L1783.9,630.7ZM1787.4,624.6L1791.0,622.7L1791.0,626.8L1787.4,628.7ZM1791.0,622.7L1794.7,620.8L1794.7,624.9L1791.0,626.8ZM1794.7,620.8L1798.5,618.9L1798.5,623.0L1794.7,624.9ZM1798.5,618.9L1802.2,617.2L1802.2,621.3L1798.5,623.0ZM1802.2,617.2L1806.0,615.3L1806.0,619.4L1802.2,621.3ZM1806.0,615.3L1809.9,613.5L1809.9,617.6L1806.0,619.4ZM1809.9,613.5L1813.7,611.7L1813.7,615.8L1809.9,617.6ZM1813.7,611.7L1817.5,610.2L1817.5,614.3L1813.7,615.8ZM1817.5,610.2L1821.1,609.1L1821.1,613.1L1817.5,614.3ZM1821.1,609.1L1825.4,608.2L1825.4,612.3L1821.1,613.1ZM1825.4,608.2L1829.5,607.8L1829.5,611.9L1825.4,612.3ZM1829.5,607.8L1833.4,607.7L1833.4,611.8L1829.5,611.9ZM1833.4,607.7L1837.2,607.8L1837.2,611.8L1833.4,611.8ZM1837.2,607.8L1841.8,607.7L1841.8,611.8L1837.2,611.8ZM1841.8,607.7L1846.1,607.9L1846.1,612.0L1841.8,611.8ZM1846.1,607.9L1850.7,609.0L1850.7,613.1L1846.1,612.0ZM1850.7,609.0L1854.5,610.9L1854.5,615.0L1850.7,613.1ZM1854.5,610.9L1858.6,613.5L1858.6,617.6L1854.5,615.0ZM1858.6,613.5L1862.7,616.2L1862.7,620.3L1858.6,617.6ZM1862.7,616.2L1866.8,618.6L1866.8,622.6L1862.7,620.3ZM1866.8,618.6L1870.6,620.5L1870.6,624.6L1866.8,622.6ZM1870.6,620.5L1874.2,622.4L1874.2,626.5L1870.6,624.6ZM1874.2,622.4L1878.1,624.0L1878.1,628.1L1874.2,626.5ZM1878.1,624.0L1882.9,625.3L1882.9,629.4L1878.1,628.1ZM1882.9,625.3L1886.9,625.8L1886.9,629.9L1882.9,629.4ZM1886.9,625.8L1891.6,626.2L1891.6,630.3L1886.9,629.9ZM1891.6,626.2L1896.5,626.4L1896.5,630.5L1891.6,630.3ZM1896.5,626.4L1901.4,626.5L1901.4,630.6L1896.5,630.5ZM1901.4,626.5L1906.0,626.5L1906.0,630.6L1901.4,630.6ZM1906.0,626.5L1909.8,626.5L1909.8,630.6L1906.0,630.6ZM1909.8,626.5L1915.2,626.4L1915.2,630.5L1909.8,630.6ZM1915.2,626.4L1919.2,626.0L1919.2,630.1L1915.2,630.5ZM1919.2,626.0L1923.3,625.3L1923.3,629.4L1919.2,630.1ZM1923.3,625.3L1928.2,624.1L1928.2,628.2L1923.3,629.4ZM1928.2,624.1L1933.3,622.5L1933.3,626.6L1928.2,628.2ZM1933.3,622.5L1938.6,620.6L1938.6,624.7L1933.3,626.6ZM1938.6,620.6L1942.9,618.9L1942.9,623.0L1938.6,624.7ZM1942.9,618.9L1947.6,616.8L1947.6,620.9L1942.9,623.0ZM1947.6,616.8L1951.9,614.8L1951.9,618.9L1947.6,620.9ZM1951.9,614.8L1955.6,613.2L1955.6,617.3L1951.9,618.9ZM1955.6,613.2L1960.2,611.5L1960.2,615.6L1955.6,617.3ZM1960.2,611.5L1963.6,610.5L1963.6,614.6L1960.2,615.6ZM940.3,878.5L941.9,876.5L943.6,878.5L941.9,880.5ZM956.1,867.8L957.7,865.7L959.4,867.8L957.7,869.8ZM956.1,852.2L957.7,850.2L959.4,852.2L957.7,854.3ZM958.1,852.2L959.7,850.2L961.4,852.2L959.7,854.3ZM958.1,866.1L959.7,864.1L961.4,866.1L959.7,868.2ZM977.9,855.9L979.6,853.8L981.2,855.9L979.6,857.9ZM977.9,841.3L979.6,839.3L981.2,841.3L979.6,843.4ZM979.9,841.3L981.6,839.2L983.2,841.3L981.6,843.3ZM979.9,854.7L981.6,852.6L983.2,854.7L981.6,856.7ZM1018.1,841.1L1019.8,839.1L1021.4,841.1L1019.8,843.2ZM1018.1,820.8L1019.8,818.8L1021.4,820.8L1019.8,822.8ZM1020.1,820.8L1021.8,818.7L1023.4,820.8L1021.8,822.8ZM1020.1,840.6L1021.8,838.6L1023.4,840.6L1021.8,842.7ZM1027.7,840.5L1029.3,838.5L1031.0,840.5L1029.3,842.5ZM1027.6,829.6L1029.3,827.6L1030.9,829.6L1029.3,831.6ZM1029.6,829.6L1031.3,827.5L1032.9,829.6L1031.3,831.6ZM1029.6,840.5L1031.3,838.5L1032.9,840.5L1031.3,842.5ZM1043.6,840.5L1045.3,838.5L1046.9,840.5L1045.3,842.5ZM1043.6,809.9L1045.3,807.9L1046.9,809.9L1045.3,811.9ZM1045.6,809.9L1047.3,807.9L1048.9,809.9L1047.3,812.0ZM1045.6,840.5L1047.3,838.5L1048.9,840.5L1047.3,842.5ZM1059.8,835.6L1061.4,833.5L1063.1,835.6L1061.4,837.6ZM1059.8,815.7L1061.4,813.7L1063.1,815.7L1061.4,817.8ZM1061.8,815.7L1063.4,813.7L1065.1,815.7L1063.4,817.8ZM1061.8,834.5L1063.4,832.5L1065.1,834.5L1063.4,836.6ZM1092.7,827.8L1094.3,825.7L1096.0,827.8L1094.3,829.8ZM1092.6,769.7L1094.3,767.7L1095.9,769.7L1094.3,771.8ZM1094.6,769.7L1096.3,767.7L1097.9,769.7L1096.3,771.8ZM1094.6,827.1L1096.3,825.1L1097.9,827.1L1096.3,829.2ZM1118.8,823.0L1120.5,821.0L1122.2,823.0L1120.5,825.0ZM1118.8,812.8L1120.5,810.8L1122.2,812.8L1120.5,814.9ZM1120.8,812.8L1122.5,810.7L1124.2,812.8L1122.5,814.8ZM1120.8,823.0L1122.5,820.9L1124.2,823.0L1122.5,825.0ZM1132.8,822.3L1134.4,820.3L1136.1,822.3L1134.4,824.4ZM1132.8,795.3L1134.4,793.2L1136.1,795.3L1134.4,797.3ZM1134.8,795.3L1136.4,793.2L1138.1,795.3L1136.4,797.3ZM1134.8,822.2L1136.4,820.1L1138.1,822.2L1136.4,824.2ZM1201.4,812.3L1203.1,810.3L1204.8,812.3L1203.1,814.4ZM1201.4,792.4L1203.1,790.4L1204.7,792.4L1203.1,794.5ZM1203.4,792.4L1205.1,790.4L1206.7,792.4L1205.1,794.5ZM1203.4,812.2L1205.1,810.1L1206.7,812.2L1205.1,814.2ZM1355.0,789.4L1356.7,787.3L1358.4,789.4L1356.7,791.4ZM1355.1,763.8L1356.7,761.8L1358.4,763.8L1356.7,765.8ZM1357.1,763.8L1358.7,761.7L1360.4,763.8L1358.7,765.8ZM1357.1,789.1L1358.7,787.0L1360.4,789.1L1358.7,791.1ZM1409.1,781.2L1410.8,779.2L1412.4,781.2L1410.8,783.3ZM1409.2,763.8L1410.8,761.8L1412.5,763.8L1410.8,765.9ZM1411.2,763.8L1412.8,761.7L1414.5,763.8L1412.8,765.8ZM1411.2,780.8L1412.8,778.8L1414.5,780.8L1412.8,782.9ZM1423.7,777.0L1425.4,774.9L1427.0,777.0L1425.4,779.0ZM1423.8,743.4L1425.4,741.4L1427.1,743.4L1425.4,745.5ZM1425.8,743.4L1427.4,741.4L1429.1,743.4L1427.4,745.5ZM1425.8,776.2L1427.4,774.2L1429.1,776.2L1427.4,778.3ZM1450.4,767.6L1452.0,765.6L1453.7,767.6L1452.0,769.7ZM1452.4,763.8L1454.1,761.8L1455.8,763.8L1454.1,765.9ZM1539.3,754.4L1541.0,752.3L1542.6,754.4L1541.0,756.4ZM1539.3,734.6L1541.0,732.6L1542.7,734.6L1541.0,736.7ZM1541.3,734.6L1543.0,732.5L1544.7,734.6L1543.0,736.6ZM1541.3,753.4L1543.0,751.3L1544.7,753.4L1543.0,755.4Z" fill="#008000" shape-rendering="crispEdges"/>
<polyline points="851.3,824.5 853.6,828.6 856.0,832.7 858.7,837.1 861.2,840.6 863.9,844.1 866.8,848.0 869.6,852.3 871.4,855.5 873.3,859.0 875.2,862.7 877.0,866.5 878.8,870.4 880.5,874.2 882.1,878.1 883.6,882.0 885.1,886.0 886.5,890.1 887.9,894.1 889.2,898.1 890.4,902.1 891.6,906.0 892.8,910.0 893.8,913.9 894.9,918.0 895.8,922.1 896.7,926.3 897.5,930.7 898.2,935.1 898.9,939.5 899.5,943.9 900.1,948.3 900.6,952.6 901.0,956.8 901.4,961.0 901.7,965.3 902.0,969.8 902.3,974.5 902.5,978.7 902.8,982.0 902.9,985.6 903.1,990.3 903.2,997.2 903.4,1007.2 903.6,1021.1 903.7,1038.2 903.9,1057.5 904.1,1077.8 904.2,1098.1 904.4,1117.4 904.7,1099.2 905.0,1081.0 905.3,1062.8 905.6,1044.7 905.9,1026.5 906.2,1008.3" fill="none" stroke="#008000" stroke-width="4.0" stroke-linejoin="round" stroke-linecap="butt" shape-rendering="crispEdges"/><path d="M852.9,824.5L855.3,828.6L852.0,828.6L849.6,824.5ZM855.3,828.6L857.6,832.7L854.3,832.7L852.0,828.6ZM857.6,832.7L860.3,837.1L857.0,837.1L854.3,832.7ZM860.3,837.1L862.8,840.6L859.5,840.6L857.0,837.1ZM862.8,840.6L865.6,844.1L862.3,844.1L859.5,840.6ZM865.6,844.1L868.4,848.0L865.1,848.0L862.3,844.1ZM868.4,848.0L871.3,852.3L868.0,852.3L865.1,848.0ZM871.3,852.3L873.1,855.5L869.8,855.5L868.0,852.3ZM873.1,855.5L875.0,859.0L871.7,859.0L869.8,855.5ZM875.0,859.0L876.8,862.7L873.5,862.7L871.7,859.0ZM876.8,862.7L878.7,866.5L875.4,866.5L873.5,862.7ZM878.7,866.5L880.5,870.4L877.2,870.4L875.4,866.5ZM880.5,870.4L882.2,874.2L878.9,874.2L877.2,870.4ZM882.2,874.2L883.8,878.1L880.5,878.1L878.9,874.2ZM883.8,878.1L885.3,882.0L882.0,882.0L880.5,878.1ZM885.3,882.0L886.8,886.0L883.5,886.0L882.0,882.0ZM886.8,886.0L888.2,890.1L884.9,890.1L883.5,886.0ZM888.2,890.1L889.5,894.1L886.2,894.1L884.9,890.1ZM889.5,894.1L890.8,898.1L887.5,898.1L886.2,894.1ZM890.8,898.1L892.1,902.1L888.8,902.1L887.5,898.1ZM892.1,902.1L893.3,906.0L890.0,906.0L888.8,902.1ZM893.3,906.0L894.4,910.0L891.1,910.0L890.0,906.0ZM894.4,910.0L895.5,913.9L892.2,913.9L891.1,910.0ZM895.5,913.9L896.5,918.0L893.2,918.0L892.2,913.9ZM896.5,918.0L897.5,922.1L894.2,922.1L893.2,918.0ZM897.5,922.1L898.3,926.3L895.0,926.3L894.2,922.1ZM898.3,926.3L899.1,930.7L895.8,930.7L895.0,926.3ZM899.1,930.7L899.9,935.1L896.6,935.1L895.8,930.7ZM899.9,935.1L900.6,939.5L897.3,939.5L896.6,935.1ZM900.6,939.5L901.2,943.9L897.9,943.9L897.3,939.5ZM901.2,943.9L901.7,948.3L898.4,948.3L897.9,943.9ZM901.7,948.3L902.3,952.6L899.0,952.6L898.4,948.3ZM902.3,952.6L902.7,956.8L899.4,956.8L899.0,952.6ZM902.7,956.8L903.0,961.0L899.8,961.0L899.4,956.8ZM903.0,961.0L903.4,965.3L900.1,965.3L899.8,961.0ZM903.4,965.3L903.7,969.8L900.4,969.8L900.1,965.3ZM903.7,969.8L904.0,974.5L900.7,974.5L900.4,969.8ZM904.0,974.5L904.2,978.7L900.9,978.7L900.7,974.5ZM904.2,978.7L904.4,982.0L901.1,982.0L900.9,978.7ZM904.4,982.0L904.6,985.6L901.3,985.6L901.1,982.0ZM904.6,985.6L904.7,990.3L901.4,990.3L901.3,985.6ZM904.7,990.3L904.9,997.2L901.6,997.2L901.4,990.3ZM904.9,997.2L905.0,1007.2L901.7,1007.2L901.6,997.2ZM905.0,1007.2L905.2,1021.1L901.9,1021.1L901.7,1007.2ZM905.2,1021.1L905.4,1038.2L902.1,1038.2L901.9,1021.1ZM905.4,1038.2L905.6,1057.5L902.3,1057.5L902.1,1038.2ZM905.6,1057.5L905.7,1077.8L902.4,1077.8L902.3,1057.5ZM905.7,1077.8L905.9,1098.1L902.6,1098.1L902.4,1077.8ZM905.9,1098.1L906.0,1117.4L902.7,1117.4L902.6,1098.1ZM902.7,1117.4L903.1,1099.2L906.4,1099.2L906.0,1117.4ZM903.1,1099.2L903.4,1081.0L906.6,1081.0L906.4,1099.2ZM903.4,1081.0L903.6,1062.8L906.9,1062.8L906.6,1081.0ZM903.6,1062.8L904.0,1044.7L907.2,1044.7L906.9,1062.8ZM904.0,1044.7L904.2,1026.5L907.5,1026.5L907.2,1044.7ZM904.2,1026.5L904.5,1008.3L907.8,1008.3L907.5,1026.5Z" fill="#008000" shape-rendering="crispEdges"/>
<rect x="836.8" y="811.5" width="29" height="26" fill="#008000" shape-rendering="crispEdges"/>
<rect x="992.9" y="831.5" width="29" height="26" fill="#008000" shape-rendering="crispEdges"/>
<rect x="1147.4" y="800.2" width="29" height="26" fill="#008000" shape-rendering="crispEdges"/>
<rect x="1302.1" y="783.3" width="29" height="26" fill="#008000" shape-rendering="crispEdges"/>
<rect x="1458.1" y="754.5" width="29" height="26" fill="#008000" shape-rendering="crispEdges"/>
<rect x="1613.8" y="718.3" width="29" height="26" fill="#008000" shape-rendering="crispEdges"/>
<rect x="1769.4" y="615.6" width="29" height="26" fill="#008000" shape-rendering="crispEdges"/>
<rect x="1924.1" y="609.7" width="29" height="26" fill="#008000" shape-rendering="crispEdges"/>
<rect x="283.0" y="34.6" width="1700.2" height="1124.9" fill="none" stroke="#000" stroke-width="2.8"/>
<g font-family="Liberation Sans, Arial, sans-serif" font-weight="bold" font-size="69" text-anchor="middle" fill="#000">
<text x="303.3" y="1237.5">-600</text>
<text x="510.7" y="1237.5">-400</text>
<text x="718.2" y="1237.5">-200</text>
<text x="925.6" y="1237.5">0</text>
<text x="1133.0" y="1237.5">200</text>
<text x="1340.5" y="1237.5">400</text>
<text x="1547.9" y="1237.5">600</text>
<text x="1755.4" y="1237.5">800</text>
<text x="1962.8" y="1237.5">1000</text>
</g>
<g font-family="Liberation Sans, Arial, sans-serif" fill="#000">
<text x="242" y="111.7" text-anchor="end"><tspan font-weight="bold" font-size="68">10</tspan><tspan font-weight="bold" font-size="40" dx="2" dy="-38">5</tspan></text>
<text x="242" y="339.7" text-anchor="end"><tspan font-weight="bold" font-size="68">10</tspan><tspan font-weight="bold" font-size="40" dx="2" dy="-38">3</tspan></text>
<text x="242" y="570.1" text-anchor="end"><tspan font-weight="bold" font-size="68">10</tspan><tspan font-weight="bold" font-size="40" dx="2" dy="-38">1</tspan></text>
<text x="242" y="800.4" text-anchor="end"><tspan font-weight="bold" font-size="68">10</tspan><tspan font-weight="bold" font-size="40" dx="2" dy="-38">-1</tspan></text>
<text x="242" y="1030.8" text-anchor="end"><tspan font-weight="bold" font-size="68">10</tspan><tspan font-weight="bold" font-size="40" dx="2" dy="-38">-3</tspan></text>
</g>
<text x="1132.7" y="1324" text-anchor="middle" font-family="Liberation Sans, Arial, sans-serif" font-weight="bold" font-size="80">Potential Ag/AgCl <tspan font-weight="normal">(</tspan>mV<tspan font-weight="normal">)</tspan></text>
<text transform="translate(113.5,1093.1) rotate(-90)" font-family="Liberation Sans, sans-serif" font-weight="bold" font-size="78.5">Current density</text>
<text transform="translate(112.5,493.4) rotate(-90)" font-family="Liberation Sans, sans-serif" font-weight="normal" font-size="79">(</text>
<text transform="translate(113.5,406.6) rotate(-90)" font-family="Liberation Sans, sans-serif" font-weight="bold" font-size="82">A</text>
<text transform="translate(113.5,325.6) rotate(-90)" font-family="Liberation Sans, sans-serif" font-weight="bold" font-size="79">cm</text>
<text transform="translate(70.3,212.8) rotate(-90)" font-family="Liberation Sans, sans-serif" font-weight="bold" font-size="48">-2</text>
<text transform="translate(112.5,154.4) rotate(-90)" font-family="Liberation Sans, sans-serif" font-weight="normal" font-size="79">)</text>
<text transform="translate(113.5,450.1) rotate(-90) scale(1.22,1)" font-family="DejaVu Sans, sans-serif" font-weight="200" font-size="62">&#956;</text>
<rect x="1467" y="834.7" width="159.0" height="5.8" fill="#000" shape-rendering="crispEdges"/>
<rect x="1467" y="920.3" width="52.2" height="3.6" fill="#0000ff" shape-rendering="crispEdges"/>
<rect x="1571.3" y="920.3" width="54.7" height="3.6" fill="#0000ff" shape-rendering="crispEdges"/>
<polygon points="1545.5,903.1 1565.5,922.1 1545.5,941.1 1525.5,922.1" fill="#0000ff" shape-rendering="crispEdges"/>
<rect x="1467" y="1003.8" width="52.2" height="5.7" fill="#ff0000" shape-rendering="crispEdges"/>
<rect x="1571.3" y="1003.8" width="54.7" height="5.7" fill="#ff0000" shape-rendering="crispEdges"/>
<polygon points="1545.5,985.3 1564.2,1017.3 1526.8,1017.3" fill="#ff0000" shape-rendering="crispEdges"/>
<rect x="1467" y="1089.3" width="52.2" height="3.0" fill="#008000" shape-rendering="crispEdges"/>
<rect x="1571.3" y="1089.3" width="54.7" height="3.0" fill="#008000" shape-rendering="crispEdges"/>
<rect x="1531.0" y="1077.8" width="29" height="26" fill="#008000" shape-rendering="crispEdges"/>
<text x="1640.6" y="859.7" font-family="Liberation Sans, Arial, sans-serif" font-weight="bold" font-size="70.5">Untreated</text>
<text x="1642.4" y="946.4" font-family="Liberation Sans, Arial, sans-serif" font-weight="bold" font-size="70.5" word-spacing="4">Type A</text>
<text x="1642.4" y="1029.2" font-family="Liberation Sans, Arial, sans-serif" font-weight="bold" font-size="70.5" word-spacing="4">Type B</text>
<text x="1642.4" y="1114.6" font-family="Liberation Sans, Arial, sans-serif" font-weight="bold" font-size="70.5" word-spacing="4">Type C</text>
</svg>
</body></html>
